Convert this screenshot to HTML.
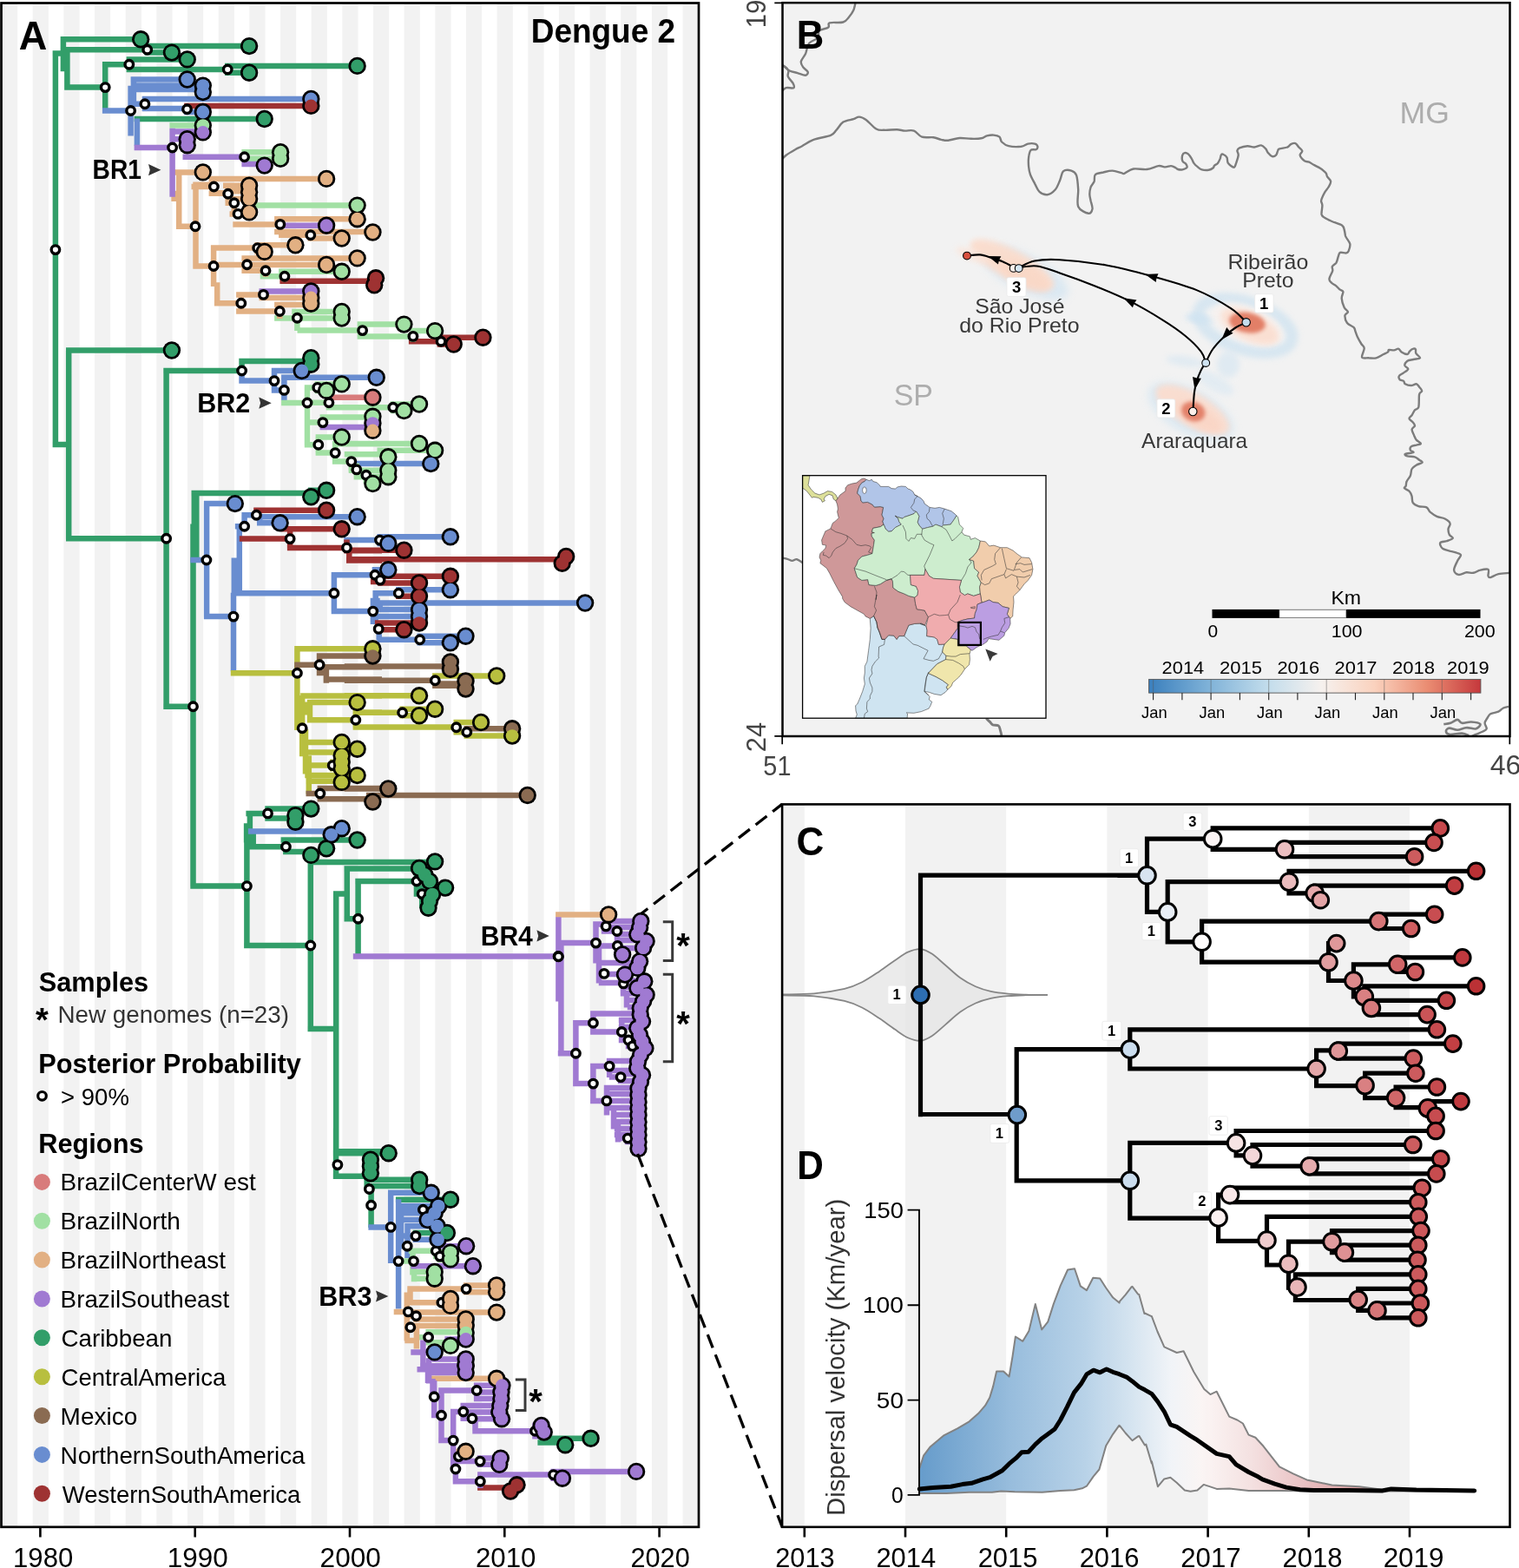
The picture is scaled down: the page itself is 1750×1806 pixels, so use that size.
<!DOCTYPE html>
<html lang="en"><head><meta charset="utf-8"><title>Dengue 2 phylogeography</title>
<style>
html,body{margin:0;padding:0;background:#fff}
body{width:1750px;height:1806px;overflow:hidden;font-family:"Liberation Sans",sans-serif}
svg{display:block}
</style></head><body>
<svg width="1750" height="1806" viewBox="0 0 1750 1806" font-family="'Liberation Sans', sans-serif">
<rect width="1750" height="1806" fill="#fff"/>
<g id="panelA">
<rect x="1.5" y="3.5" width="803.7" height="1755.3" fill="#fff"/>
<path d="M2 3.5h18.2v1755.3h-18.2zM37.7 3.5h18.2v1755.3h-18.2zM73.4 3.5h18.2v1755.3h-18.2zM109 3.5h18.2v1755.3h-18.2zM144.7 3.5h18.2v1755.3h-18.2zM180.3 3.5h18.2v1755.3h-18.2zM216 3.5h18.2v1755.3h-18.2zM251.7 3.5h18.2v1755.3h-18.2zM287.3 3.5h18.2v1755.3h-18.2zM323 3.5h18.2v1755.3h-18.2zM358.6 3.5h18.2v1755.3h-18.2zM394.3 3.5h18.2v1755.3h-18.2zM430 3.5h18.2v1755.3h-18.2zM465.6 3.5h18.2v1755.3h-18.2zM501.3 3.5h18.2v1755.3h-18.2zM536.9 3.5h18.2v1755.3h-18.2zM572.6 3.5h18.2v1755.3h-18.2zM608.3 3.5h18.2v1755.3h-18.2zM643.9 3.5h18.2v1755.3h-18.2zM679.6 3.5h18.2v1755.3h-18.2zM715.2 3.5h18.2v1755.3h-18.2zM750.9 3.5h18.2v1755.3h-18.2zM786.6 3.5h18.2v1755.3h-18.2z" fill="#f2f2f2"/>
<path d="M69.7 45.3H162.2M166.5 53.1H287.1M74.2 57.3H169.7M166.5 60.6H197.9M60.6 61.6H72.9M145.6 68.4H215.7M117.9 74.2H148.8M259 75.9H411.6M145.6 80H262.2M259 83.7H287.1M74.2 100.6H121.2M154.6 137H304.7M72.9 42.2V82.2M77.4 56.1V103.6M121.2 71.2V125M148.8 67.9V80.5M169.7 52.6V61.1M262.2 75.4V84.2M76 403.5H197.9M275.3 416H358.3M188.3 427H278.6M60.6 512H79.2M220.5 568.1H358.3M355 564.8H376.1M79.2 403.9V610.6M191.6 426.5V610.6M278.6 415.5V430.8M223.8 567.6V610.6M76 620.3H191.6M79.2 559.5V620.8M191.6 559.5V790.6M226.3 568.3V643.5M222.5 603.5V790.6M188.3 813.7H222.5M305.3 931.6H358.3M283.4 936.9H308.5M305.3 942.4H340.4M323.6 967.5H411.6M191.6 739.5V814.2M222.5 739.5V970.6M308.5 931.1V942.9M287.9 936.4V970.6M284.1 948.2V970.6M285.9 975.3H329.4M326.1 981.1H358.3M355 992.9H440M396.5 1000.5H440M409.3 1015H440M219.3 1020.6H284.4M384 1029.4H399.8M396.5 1058.3H412.6M281.1 1089H357.8M222.5 919.5V1021.1M284.4 948.4V1089.5M287.9 934.6V978.3M291.7 957.2V978.3M329.4 968.5V981.6M357.8 992.4V1150.6M399.8 1000V1058.8M412.6 1014.5V1102M387.2 1028.9V1150.6M396.8 992.9H501.1M396.8 1000.5H483M409.3 1015H480M396.8 1058.3H412.6M476.7 1007.5H489.3M476.7 1022.6H513.1M476.7 1029.6H486.2M483 1037.7H495M412.6 1014.5V1102M480 1007V1030.1M486.2 1022.1V1046.2M354.5 1185H387.2M384 1326.3H440M357.8 1099.5V1185.5M387.2 1099.5V1326.8M383.8 1328.2H447.7M383.8 1354.7H426.9M419.5 1358.7H483.2M419.5 1366.1H483.2M455.9 1381.7H519M475.7 1420H514.9M387.1 1299.5V1357M422.7 1354.2V1370.3M427.6 1365.6V1413.9M623.5 1656.8H680.6M619.4 1661.5H651.2M63.9 59.5V512.5" stroke="#329E69" stroke-width="6.5" fill="none"/>
<path d="M150.6 91.5H215.7M153.9 98.6H233.8M147.4 103.1H233.8M163.7 113.9H358.3M163.7 125H215.5M212.2 129H233.8M117.9 127.5H150.6M153.9 119.7H166.9M150.6 98.8V156.4M153.9 88.8V121.2M157.9 136.5V167.7M275.3 438.6H316M312.8 427H347.7M324.1 434.8H433.7M312.8 449.4H327.4M407.6 534.1H440M234.9 580.1H270.8M292.2 595.2H411.6M278.4 593.2H295.4M296 602.3H322.6M270.8 606.3H281.6M278.6 429.8V439.1M316 426.5V449.9M327.4 434.3V461M238.1 579.6V610.6M295.4 587.2V599.2M299.2 594.7V602.8M281.6 592.7V610.6M407.6 534.1H496.3M219.3 645H237.9M234.9 710.1H269M396.3 622.1H437.5M381.7 662.3H432M267 683.2H384.9M381.7 704.1H429.7M238.1 579.6V710.6M275.8 604.8V683.7M269.8 642.5V683.7M269 682.7V773M384.9 661.8V704.6M434.5 618.3H518.9M434.5 625.9H447.3M428.7 656.3H447.3M456.1 679.2H518.9M429.4 683.2H459.3M434.5 694.5H674.1M426.7 692H437.7M434.5 702.1H483M426.7 709.9H483M480.5 732.7H536.5M434.5 736.8H483.7M480.5 740.3H518.9M437.7 617.8V626.4M431.9 655.8V668.6M459.3 678.7V687.2M432.7 682.7V718.9M429.9 690.2V718.9M437.7 691.5V702.6M436.7 717.9V737.3M483.7 732.2V740.8M285.9 957.5H381.7M269 739.5V773.2M447 1373.8H496.7M424.4 1413.4H450.2M455.9 1389.1H505.2M455.9 1393.2H487.4M463.3 1397.3H500.7M455.9 1405H492.6M466.3 1412.2H503.7M455.9 1423.6H478.9M475.7 1427.8H504.5M455.9 1435.2H469.2M450.2 1373.3V1455M459.1 1381.2V1470.5M462.1 1388.6V1434.2M469.5 1409.4V1449.1M478.9 1419.5V1428.3M459.1 1439.5V1507.4" stroke="#698DD0" stroke-width="6.5" fill="none"/>
<path d="M212.2 121.9H358.3M322.4 323.8H427.4M470.9 393.2H508.1M504.9 388.7H556.4M503.6 396.5H522.7M508.1 388.2V397M292.2 587.7H376.1M323.6 609.3H393.7M275.8 620.6H334.1M330.9 630.9H399.5M396.3 634.2H440M399 645.5H440M334.1 610V631.4M399.5 621.6V633.4M402.3 630.4V646M396.8 633.7H465.4M404.3 644.2H647.7M435.2 663.8H518.9M426.9 669.9H438.5M435.2 671.4H483M456.1 686.7H483M431.9 717.6H483M433.5 725.2H465.4M438.5 663.3V671.9M436.7 717.1V725.7M550.1 1713.6H588.1" stroke="#9E3232" stroke-width="6.5" fill="none"/>
<path d="M339.2 747.3H429.4M265.8 775.2H342.4M342.4 746.8V790.6M498.1 778.5H572.2M501.3 778V788M346.2 801.6H440M353.8 809.1H411.6M406.6 820.5H440M353.8 829.3H409.8M406.6 837.6H440M346.2 854.9H393.7M390.5 862.7H411.6M348.8 866.5H393.7M350 881.6H383.2M379.9 877.8H393.7M379.9 885.3H393.7M351.3 893.1H411.6M352.5 899.7H393.7M342.4 747V841.1M348.2 801.1V871.2M352 840.1V891.4M355.8 870.2V914.5M357 808.6V829.8M353.8 808.6V823.5M409.8 820V838.1M383.2 877.3V885.8M396.8 801.3H483M406.8 820.7H463.6M460.4 816.7H501.1M460.4 824.2H483M406.8 837.6H525.7M522.5 832H554.1M534.5 847.6H590.1M522.5 843.3H537.8M463.6 816.2V824.7M525.7 831.5V843.8M537.8 838.8V848.1" stroke="#B8BF3F" stroke-width="6.5" fill="none"/>
<path d="M364.8 755.6H429.4M339.2 765.7H368.1M364.8 768.2H440M364.8 775H375.9M372.6 782.5H440M368.1 755.1V775.5M375.9 767.7V786.8M396.8 767.4H518.9M396.8 783.8H501.3M498.1 787.5H536.5M365.6 908H440M352.5 914H368.8M365.6 920.3H429.4M368.8 907.5V920.8M498.1 789.8H536.5M534.5 839.3H590.1M396.8 908.5H447.3M421.9 916H607.7M396.8 920.3H429.7" stroke="#8A6B52" stroke-width="6.5" fill="none"/>
<path d="M195.4 144.6H233.8M278.4 175.2H323.1M278.4 182.8H323.1M283.9 236.6H411.6M321.1 312.8H393.7M299.7 318.3H327.9M336.2 359H393.7M316.1 366.6H393.7M411.6 373.6H440M342.5 380.6H417.6M411.6 387.4H440M327.9 312.3V324.3M342.4 358.5V381.1M417.6 373.1V387.9M414.4 373.6H465.4M472.7 381.1H501.1M414.4 387.4H475.9M475.9 380.6V393.7M350.8 446.4H365.8M362.6 442.4H393.7M362.6 449.9H376.1M324.1 464H354M350.8 463.7H378.9M375.7 469.3H440M368.6 480.6H429.4M350.8 486.6H371.9M363.6 503.5H393.7M382.9 511.2H440M350.8 512.3H366.8M363.6 521.6H386.2M401.6 523.3H440M382.9 531.6H404.8M401.6 540.9H410.8M407.6 547.2H421.9M418.6 542.2H440M418.6 553.5H429.4M354 445.9V512.8M365.8 441.9V450.4M378.9 457.2V469.8M371.9 480.1V492.4M366.8 503V522.1M386.2 510.7V532.1M404.8 522.8V541.4M410.8 533.6V547.7M421.9 541.7V554M396.8 469.3H452.8M449.6 465.5H483M449.6 473H465.4M396.8 511H483M434.5 518.8H501.1M396.8 523.3H447.3M401.8 541.7H447.3M407.6 549.2H447.3M418.6 553.5H429.7M452.8 465V473.5M470.8 1440.8H502.2M499 1442.6H519M503.4 1450.4H519M499 1447.1H506.7M455.9 1452.6H476.5M472.2 1464.9H500.7M475.5 1439.2V1468.4M502.2 1440.3V1447.6M490.4 1534.3H536.7M481.1 1540.3H493.6M490.4 1546.2H519M472.2 1465H500.7M475.2 1472.7H500.7M477 1454.4V1476.2M493.6 1533.8V1546.7" stroke="#A1E0A3" stroke-width="6.5" fill="none"/>
<path d="M197.9 198.4H233.8M240.6 205.9H376.1M258.2 213.7H287.1M220.5 215H246.4M243.2 222.3H262.7M262.7 213.2V222.8M222.3 212.7H246.4M257 213.7H287.1M240.6 222.7H262.7M259.5 220.2H287.1M266.5 229H287.1M259.5 233.8H269.8M270.8 244.4H287.1M264.5 246.4H274.1M316.1 252.2H411.6M268.3 258.4H322.8M202.9 260.7H225M316.1 267H429.4M321.1 270.8H357.8M354.5 274.5H393.7M293.4 282.3H340.4M242.9 285.6H296.7M293.4 289.9H304.7M278.4 297.4H411.6M242.9 305H376.1M222.3 306.5H246.1M278.4 311.7H306M272.1 339.4H303.5M298.5 342.9H358.3M246.9 349.2H277.8M316.1 351H358.3M272.1 358.5H322.3M206.2 197.9V262.2M200.6 219.7V232M225.5 212.2V308.7M246.1 282.6V330.1M250.2 325.3V351.5M262.7 213.2V234.3M269.8 228.5V246.9M322.8 251.7V267.5M324.3 266.5V271.3M357.8 270.3V275M296.7 281.8V290.4M284.6 296.9V312.2M306 311.2V318.8M277.8 338.9V359M303.5 334.9V343.4M322.3 350.5V367.1M469.3 1484.6H537.1M533.9 1480.4H572.1M533.9 1488.3H572.1M465.6 1500.2H519M453.7 1510.9H470.3M476.2 1511.6H572.1M476.2 1519.5H536.7M470.8 1526.9H536.7M494.5 1587.8H572.1M467 1515.8H479.5M465.6 1528.7H472.8M466.3 1544H479.9M468.8 1488.5V1544.5M479.9 1528.6V1553.4M472.5 1484.1V1500.7M479.5 1511.1V1520M537.1 1479.9V1488.8M525.2 1671.8H536.6M640.1 1053.4H701" stroke="#E2B083" stroke-width="6.5" fill="none"/>
<path d="M195.4 151.6H233.8M197.9 160.2H215.7M154.6 170H198.6M210.5 180.8H281.6M278.4 189.1H304.7M198.6 147.8V226.8M319.6 259.7H376.1M298.5 335.4H358.3M368.6 491.9H429.4M409.3 1101.5H440M406.8 1101.5H643.1M506.4 1435.2H537.1M473.3 1458.2H544.9M512.4 1542.5H536.7M473.3 1557.4H500.7M497.5 1565.5H536.7M484.1 1573.3H536.7M490.8 1581.1H536.7M487.4 1543.5V1577.2M494.1 1564.3V1593.5M498.5 1588.1V1610.5M480.5 1577.2H536.4M505.2 1601.5H549.2M545.9 1595.7H578.4M545.9 1603.5H577.4M545.9 1611.1H577.4M530.5 1619H576.3M519 1626H533.8M530.5 1626.6H575.3M530.5 1633.8H544M540.8 1634.2H578M544.3 1648.2H616.5M613.2 1642H623.7M613.2 1654.3H626.7M505.2 1659.1H522.2M519 1677.6H528.4M549.8 1679.6H576.8M525.2 1683.1H553.1M549.8 1686.8H575.3M634.4 1694.9H733.1M550.1 1698.6H637.6M634.4 1702.7H647.9M521.7 1706.2H553.3M493 1569.5V1593.1M500.2 1590.1V1633.2M508.5 1601V1661M522.2 1625.5V1693.9M524.9 1690.9V1706.7M533.8 1618.5V1634.3M547.5 1633.3V1648.7M549.2 1595.2V1611.6M616.5 1641.5V1654.8M553.1 1679.1V1687.3M637.6 1694.4V1703.2M553.3 1698.1V1714.1M642.8 1086.1H686.5M683.2 1064.5H698M694.8 1060.9H738M694.8 1068H737M692.8 1072.5H711M707.8 1076H734M707.8 1083H744M686.8 1089.4H711.4M707.8 1092H741M707.8 1099H717M686.8 1108.9H737M716.8 1114.6H734M686.8 1121.4H696M692.8 1122H720M689.8 1132H718M714.8 1129.4H742M714.8 1137H734M714.8 1144.3H744M718.8 1152H741M722.8 1160H737M680.1 1167.5H737M660.1 1178.2H683.4M712.8 1175H740M680.1 1188.5H716.3M712.8 1183H734M712.8 1198H724M720.8 1204.9H728.6M642.8 1213.2H663.4M698.8 1222H735M680.1 1228.1H702M698.8 1233H734M701.8 1240.6H715M711.8 1237H740M711.8 1245H738M660.1 1248.1H683.4M695.8 1253H735M695.8 1260H735M680.1 1267.9H699M695.8 1268H735M695.8 1276H735M703.8 1284H735M703.8 1292H735M707.8 1300H735M707.8 1307H735M709.8 1311.1H723M719.8 1315H735M643.4 1056.3V1153.5M646.4 1088.5V1213.7M686.5 1063.5V1109.4M690 1088.5V1132.5M698 1060.4V1068.5M711 1072V1099.5M718 1128.9V1144.8M722 1143.5V1160.5M663.4 1177.7V1248.6M683.4 1167V1189M716.3 1174.5V1198.5M683.4 1227.6V1268.4M702.1 1221.5V1241.1M715.1 1236.5V1245.5M699 1252.5V1284.5M707 1275.5V1300.5M712 1291.5V1315.5" stroke="#A07AD2" stroke-width="6.5" fill="none"/>
<path d="M375.7 457.7H429.4" stroke="#D87B7B" stroke-width="6.5" fill="none"/>
<g fill="#fff" stroke="#000" stroke-width="3.4">
<circle cx="169.7" cy="57.3" r="4.75"/>
<circle cx="148.8" cy="74.2" r="4.75"/>
<circle cx="262.2" cy="80" r="4.75"/>
<circle cx="121.2" cy="100.6" r="4.75"/>
<circle cx="166.9" cy="119.7" r="4.75"/>
<circle cx="215.5" cy="125.7" r="4.75"/>
<circle cx="150.6" cy="127.5" r="4.75"/>
<circle cx="198.6" cy="170" r="4.75"/>
<circle cx="281.6" cy="180.8" r="4.75"/>
<circle cx="246.4" cy="215" r="4.75"/>
<circle cx="262.7" cy="223.3" r="4.75"/>
<circle cx="269.8" cy="233.8" r="4.75"/>
<circle cx="274.1" cy="246.4" r="4.75"/>
<circle cx="225" cy="260.7" r="4.75"/>
<circle cx="322.8" cy="258.4" r="4.75"/>
<circle cx="357.8" cy="270.8" r="4.75"/>
<circle cx="296.7" cy="285.6" r="4.75"/>
<circle cx="63.9" cy="287.6" r="4.75"/>
<circle cx="246.1" cy="306.5" r="4.75"/>
<circle cx="284.6" cy="304.7" r="4.75"/>
<circle cx="306" cy="311.7" r="4.75"/>
<circle cx="327.9" cy="318.3" r="4.75"/>
<circle cx="303.5" cy="339.4" r="4.75"/>
<circle cx="277.8" cy="349.2" r="4.75"/>
<circle cx="322.3" cy="358.5" r="4.75"/>
<circle cx="342.4" cy="366.3" r="4.75"/>
<circle cx="417.6" cy="380.6" r="4.75"/>
<circle cx="475.9" cy="387.4" r="4.75"/>
<circle cx="508.1" cy="393.2" r="4.75"/>
<circle cx="278.6" cy="427" r="4.75"/>
<circle cx="316" cy="438.6" r="4.75"/>
<circle cx="327.4" cy="449.4" r="4.75"/>
<circle cx="365.8" cy="446.4" r="4.75"/>
<circle cx="354" cy="464" r="4.75"/>
<circle cx="378.9" cy="463.7" r="4.75"/>
<circle cx="371.9" cy="486.6" r="4.75"/>
<circle cx="366.8" cy="512.3" r="4.75"/>
<circle cx="386.2" cy="521.6" r="4.75"/>
<circle cx="404.8" cy="531.6" r="4.75"/>
<circle cx="410.8" cy="540.9" r="4.75"/>
<circle cx="421.9" cy="547.2" r="4.75"/>
<circle cx="295.4" cy="593.2" r="4.75"/>
<circle cx="281.6" cy="606.3" r="4.75"/>
<circle cx="452.8" cy="469.3" r="4.75"/>
<circle cx="191.6" cy="620.3" r="4.75"/>
<circle cx="237.9" cy="645" r="4.75"/>
<circle cx="334.1" cy="620.6" r="4.75"/>
<circle cx="399.5" cy="630.9" r="4.75"/>
<circle cx="437.5" cy="622.1" r="4.75"/>
<circle cx="432" cy="662.3" r="4.75"/>
<circle cx="438" cy="668.1" r="4.75"/>
<circle cx="384.9" cy="683.2" r="4.75"/>
<circle cx="429.7" cy="704.1" r="4.75"/>
<circle cx="436.2" cy="724.4" r="4.75"/>
<circle cx="269" cy="710.1" r="4.75"/>
<circle cx="368.1" cy="765.7" r="4.75"/>
<circle cx="342.4" cy="775.2" r="4.75"/>
<circle cx="459.3" cy="683.2" r="4.75"/>
<circle cx="483.7" cy="736.8" r="4.75"/>
<circle cx="501.3" cy="783.8" r="4.75"/>
<circle cx="222.5" cy="813.7" r="4.75"/>
<circle cx="409.8" cy="829.3" r="4.75"/>
<circle cx="348.2" cy="838.8" r="4.75"/>
<circle cx="383.2" cy="881.6" r="4.75"/>
<circle cx="368.8" cy="914" r="4.75"/>
<circle cx="308.5" cy="936.9" r="4.75"/>
<circle cx="463.6" cy="820.7" r="4.75"/>
<circle cx="525.7" cy="837.8" r="4.75"/>
<circle cx="537.8" cy="843.3" r="4.75"/>
<circle cx="329.4" cy="975.3" r="4.75"/>
<circle cx="284.4" cy="1020.6" r="4.75"/>
<circle cx="412.6" cy="1058.3" r="4.75"/>
<circle cx="357.8" cy="1089" r="4.75"/>
<circle cx="480" cy="1015" r="4.75"/>
<circle cx="486.2" cy="1029.6" r="4.75"/>
<circle cx="643.1" cy="1101.5" r="4.75"/>
<circle cx="388.9" cy="1341.6" r="4.75"/>
<circle cx="425.4" cy="1369.5" r="4.75"/>
<circle cx="427.6" cy="1388.3" r="4.75"/>
<circle cx="487.4" cy="1393.2" r="4.75"/>
<circle cx="450.2" cy="1413.4" r="4.75"/>
<circle cx="478.9" cy="1423.6" r="4.75"/>
<circle cx="469.2" cy="1435.2" r="4.75"/>
<circle cx="502.2" cy="1440.8" r="4.75"/>
<circle cx="506.7" cy="1447.1" r="4.75"/>
<circle cx="459.1" cy="1452.6" r="4.75"/>
<circle cx="476.5" cy="1452.6" r="4.75"/>
<circle cx="537.1" cy="1484.6" r="4.75"/>
<circle cx="508.9" cy="1500.2" r="4.75"/>
<circle cx="470.3" cy="1510.9" r="4.75"/>
<circle cx="479.5" cy="1515.8" r="4.75"/>
<circle cx="472.8" cy="1528.7" r="4.75"/>
<circle cx="493.6" cy="1540.3" r="4.75"/>
<circle cx="500.2" cy="1608.7" r="4.75"/>
<circle cx="549.2" cy="1601.5" r="4.75"/>
<circle cx="508.5" cy="1630.3" r="4.75"/>
<circle cx="533.8" cy="1626" r="4.75"/>
<circle cx="544" cy="1633.8" r="4.75"/>
<circle cx="616.5" cy="1648.2" r="4.75"/>
<circle cx="522.2" cy="1659.1" r="4.75"/>
<circle cx="528.4" cy="1677.6" r="4.75"/>
<circle cx="553.1" cy="1683.1" r="4.75"/>
<circle cx="524.9" cy="1692" r="4.75"/>
<circle cx="637.6" cy="1698.6" r="4.75"/>
<circle cx="553.3" cy="1706.2" r="4.75"/>
<circle cx="698.1" cy="1066.9" r="4.75"/>
<circle cx="710.9" cy="1072.5" r="4.75"/>
<circle cx="686.5" cy="1086.1" r="4.75"/>
<circle cx="711.4" cy="1089.4" r="4.75"/>
<circle cx="643.4" cy="1101.7" r="4.75"/>
<circle cx="696" cy="1121.4" r="4.75"/>
<circle cx="718.3" cy="1132.9" r="4.75"/>
<circle cx="683.4" cy="1178.2" r="4.75"/>
<circle cx="716.3" cy="1188.5" r="4.75"/>
<circle cx="724" cy="1198" r="4.75"/>
<circle cx="728.6" cy="1204.9" r="4.75"/>
<circle cx="663.4" cy="1213.2" r="4.75"/>
<circle cx="702.1" cy="1228.1" r="4.75"/>
<circle cx="715.1" cy="1240.6" r="4.75"/>
<circle cx="683.4" cy="1248.1" r="4.75"/>
<circle cx="698.9" cy="1267.9" r="4.75"/>
<circle cx="723.2" cy="1311.1" r="4.75"/>
</g>
<g fill="#000">
<circle cx="162.2" cy="45.3" r="10.2"/>
<circle cx="287.1" cy="53.1" r="10.2"/>
<circle cx="197.9" cy="60.6" r="10.2"/>
<circle cx="215.7" cy="68.4" r="10.2"/>
<circle cx="411.6" cy="75.9" r="10.2"/>
<circle cx="287.1" cy="83.7" r="10.2"/>
<circle cx="215.7" cy="91.5" r="10.2"/>
<circle cx="233.8" cy="98.6" r="10.2"/>
<circle cx="233.8" cy="106.1" r="10.2"/>
<circle cx="358.3" cy="113.9" r="10.2"/>
<circle cx="358.3" cy="121.9" r="10.2"/>
<circle cx="233.8" cy="129" r="10.2"/>
<circle cx="304.7" cy="137" r="10.2"/>
<circle cx="233.8" cy="144.6" r="10.2"/>
<circle cx="233.8" cy="152.4" r="10.2"/>
<circle cx="215.7" cy="160.2" r="10.2"/>
<circle cx="215.7" cy="167.2" r="10.2"/>
<circle cx="323.1" cy="175.2" r="10.2"/>
<circle cx="323.1" cy="182.8" r="10.2"/>
<circle cx="304.7" cy="190.6" r="10.2"/>
<circle cx="233.8" cy="198.4" r="10.2"/>
<circle cx="376.1" cy="205.9" r="10.2"/>
<circle cx="287.1" cy="213.7" r="10.2"/>
<circle cx="287.1" cy="221.3" r="10.2"/>
<circle cx="287.1" cy="229" r="10.2"/>
<circle cx="411.6" cy="236.6" r="10.2"/>
<circle cx="287.1" cy="244.4" r="10.2"/>
<circle cx="411.6" cy="252.2" r="10.2"/>
<circle cx="376.1" cy="259.7" r="10.2"/>
<circle cx="429.4" cy="267.5" r="10.2"/>
<circle cx="393.7" cy="274.5" r="10.2"/>
<circle cx="340.4" cy="282.3" r="10.2"/>
<circle cx="304.7" cy="289.9" r="10.2"/>
<circle cx="411.6" cy="297.4" r="10.2"/>
<circle cx="376.1" cy="305" r="10.2"/>
<circle cx="393.7" cy="312.8" r="10.2"/>
<circle cx="433" cy="320.3" r="10.2"/>
<circle cx="431.2" cy="328.3" r="10.2"/>
<circle cx="358.3" cy="335.4" r="10.2"/>
<circle cx="358.3" cy="342.9" r="10.2"/>
<circle cx="358.3" cy="349.7" r="10.2"/>
<circle cx="393.7" cy="359" r="10.2"/>
<circle cx="393.7" cy="366.6" r="10.2"/>
<circle cx="197.9" cy="403.5" r="10.2"/>
<circle cx="465.4" cy="373.6" r="10.2"/>
<circle cx="501.1" cy="381.1" r="10.2"/>
<circle cx="556.4" cy="388.7" r="10.2"/>
<circle cx="522.7" cy="396.5" r="10.2"/>
<circle cx="358.3" cy="412.2" r="10.2"/>
<circle cx="358.3" cy="419.7" r="10.2"/>
<circle cx="347.7" cy="427" r="10.2"/>
<circle cx="433.7" cy="434.8" r="10.2"/>
<circle cx="393.7" cy="442.4" r="10.2"/>
<circle cx="376.1" cy="449.9" r="10.2"/>
<circle cx="429.4" cy="457.7" r="10.2"/>
<circle cx="429.4" cy="479.8" r="10.2"/>
<circle cx="429.4" cy="487.6" r="10.2"/>
<circle cx="429.4" cy="495.9" r="10.2"/>
<circle cx="393.7" cy="503.5" r="10.2"/>
<circle cx="429.4" cy="557" r="10.2"/>
<circle cx="376.1" cy="564.8" r="10.2"/>
<circle cx="358.3" cy="572.3" r="10.2"/>
<circle cx="270.8" cy="580.1" r="10.2"/>
<circle cx="376.1" cy="587.7" r="10.2"/>
<circle cx="411.6" cy="595.2" r="10.2"/>
<circle cx="322.6" cy="602.3" r="10.2"/>
<circle cx="393.7" cy="609.3" r="10.2"/>
<circle cx="483" cy="465.5" r="10.2"/>
<circle cx="465.4" cy="473" r="10.2"/>
<circle cx="483" cy="511" r="10.2"/>
<circle cx="501.1" cy="518.8" r="10.2"/>
<circle cx="447.3" cy="526.3" r="10.2"/>
<circle cx="496.3" cy="534.1" r="10.2"/>
<circle cx="447.3" cy="541.7" r="10.2"/>
<circle cx="447.3" cy="549.2" r="10.2"/>
<circle cx="429.4" cy="747.3" r="10.2"/>
<circle cx="429.4" cy="755.6" r="10.2"/>
<circle cx="518.9" cy="618.3" r="10.2"/>
<circle cx="447.3" cy="625.9" r="10.2"/>
<circle cx="465.4" cy="633.7" r="10.2"/>
<circle cx="652.2" cy="641" r="10.2"/>
<circle cx="647.7" cy="648.8" r="10.2"/>
<circle cx="447.3" cy="656.3" r="10.2"/>
<circle cx="518.9" cy="663.8" r="10.2"/>
<circle cx="483" cy="671.4" r="10.2"/>
<circle cx="518.9" cy="679.2" r="10.2"/>
<circle cx="483" cy="686.7" r="10.2"/>
<circle cx="674.1" cy="694.5" r="10.2"/>
<circle cx="483" cy="702.1" r="10.2"/>
<circle cx="483" cy="709.9" r="10.2"/>
<circle cx="483" cy="717.6" r="10.2"/>
<circle cx="465.4" cy="725.2" r="10.2"/>
<circle cx="536.5" cy="732.7" r="10.2"/>
<circle cx="518.9" cy="740.3" r="10.2"/>
<circle cx="518.9" cy="762.4" r="10.2"/>
<circle cx="518.9" cy="770.7" r="10.2"/>
<circle cx="572.2" cy="778.5" r="10.2"/>
<circle cx="536.5" cy="784.5" r="10.2"/>
<circle cx="411.6" cy="809.1" r="10.2"/>
<circle cx="393.7" cy="854.9" r="10.2"/>
<circle cx="411.6" cy="862.7" r="10.2"/>
<circle cx="393.7" cy="870.2" r="10.2"/>
<circle cx="393.7" cy="877.8" r="10.2"/>
<circle cx="393.7" cy="885.3" r="10.2"/>
<circle cx="411.6" cy="893.1" r="10.2"/>
<circle cx="393.7" cy="900.9" r="10.2"/>
<circle cx="429.4" cy="923.5" r="10.2"/>
<circle cx="358.3" cy="931.6" r="10.2"/>
<circle cx="340.4" cy="939.1" r="10.2"/>
<circle cx="340.4" cy="946.7" r="10.2"/>
<circle cx="393.7" cy="954.2" r="10.2"/>
<circle cx="381.7" cy="961.3" r="10.2"/>
<circle cx="411.6" cy="967.5" r="10.2"/>
<circle cx="536.5" cy="793.6" r="10.2"/>
<circle cx="483" cy="801.3" r="10.2"/>
<circle cx="501.1" cy="816.7" r="10.2"/>
<circle cx="483" cy="824.2" r="10.2"/>
<circle cx="554.1" cy="832" r="10.2"/>
<circle cx="590.1" cy="839.3" r="10.2"/>
<circle cx="590.1" cy="847.6" r="10.2"/>
<circle cx="447.3" cy="908.5" r="10.2"/>
<circle cx="607.7" cy="916" r="10.2"/>
<circle cx="376.1" cy="977.3" r="10.2"/>
<circle cx="358.3" cy="984.9" r="10.2"/>
<circle cx="501.1" cy="992.4" r="10.2"/>
<circle cx="483" cy="1000" r="10.2"/>
<circle cx="489.3" cy="1007.5" r="10.2"/>
<circle cx="495" cy="1015" r="10.2"/>
<circle cx="513.1" cy="1022.6" r="10.2"/>
<circle cx="498.1" cy="1030.1" r="10.2"/>
<circle cx="495" cy="1037.7" r="10.2"/>
<circle cx="493.5" cy="1045.7" r="10.2"/>
<circle cx="447.7" cy="1328.2" r="10.2"/>
<circle cx="426.9" cy="1335.7" r="10.2"/>
<circle cx="426.9" cy="1343.4" r="10.2"/>
<circle cx="426.9" cy="1351.3" r="10.2"/>
<circle cx="483.2" cy="1358.7" r="10.2"/>
<circle cx="483.2" cy="1366.1" r="10.2"/>
<circle cx="496.7" cy="1373.8" r="10.2"/>
<circle cx="519" cy="1381.7" r="10.2"/>
<circle cx="505.2" cy="1389.1" r="10.2"/>
<circle cx="500.7" cy="1397.3" r="10.2"/>
<circle cx="492.6" cy="1405" r="10.2"/>
<circle cx="503.7" cy="1412.2" r="10.2"/>
<circle cx="514.9" cy="1420" r="10.2"/>
<circle cx="504.5" cy="1427.8" r="10.2"/>
<circle cx="537.1" cy="1435.2" r="10.2"/>
<circle cx="519" cy="1442.6" r="10.2"/>
<circle cx="519" cy="1450.4" r="10.2"/>
<circle cx="544.9" cy="1458.2" r="10.2"/>
<circle cx="500.7" cy="1464.9" r="10.2"/>
<circle cx="500.7" cy="1472.7" r="10.2"/>
<circle cx="572.1" cy="1480.4" r="10.2"/>
<circle cx="572.1" cy="1488.3" r="10.2"/>
<circle cx="519" cy="1496" r="10.2"/>
<circle cx="519" cy="1503.9" r="10.2"/>
<circle cx="572.1" cy="1511.6" r="10.2"/>
<circle cx="536.7" cy="1519.5" r="10.2"/>
<circle cx="536.7" cy="1526.9" r="10.2"/>
<circle cx="536.7" cy="1535.1" r="10.2"/>
<circle cx="536.7" cy="1542.5" r="10.2"/>
<circle cx="519" cy="1549.9" r="10.2"/>
<circle cx="500.7" cy="1557.4" r="10.2"/>
<circle cx="536.7" cy="1565.5" r="10.2"/>
<circle cx="536.7" cy="1573.3" r="10.2"/>
<circle cx="536.7" cy="1581.1" r="10.2"/>
<circle cx="572.1" cy="1587.8" r="10.2"/>
<circle cx="536.4" cy="1572.5" r="10.2"/>
<circle cx="578.4" cy="1595.7" r="10.2"/>
<circle cx="577.4" cy="1603.5" r="10.2"/>
<circle cx="577.4" cy="1611.1" r="10.2"/>
<circle cx="576.3" cy="1619" r="10.2"/>
<circle cx="575.3" cy="1626.6" r="10.2"/>
<circle cx="578" cy="1634.2" r="10.2"/>
<circle cx="623.7" cy="1642" r="10.2"/>
<circle cx="626.7" cy="1649.6" r="10.2"/>
<circle cx="680.6" cy="1656.8" r="10.2"/>
<circle cx="651.2" cy="1664.2" r="10.2"/>
<circle cx="536.6" cy="1671.8" r="10.2"/>
<circle cx="576.8" cy="1679.6" r="10.2"/>
<circle cx="575.3" cy="1686.8" r="10.2"/>
<circle cx="733.1" cy="1694.9" r="10.2"/>
<circle cx="647.9" cy="1702.7" r="10.2"/>
<circle cx="595.5" cy="1710.3" r="10.2"/>
<circle cx="588.1" cy="1717.5" r="10.2"/>
<circle cx="701.1" cy="1053.4" r="10.2"/>
<circle cx="738.3" cy="1060.9" r="10.2"/>
<circle cx="737.1" cy="1068.6" r="10.2"/>
<circle cx="734.3" cy="1076.3" r="10.2"/>
<circle cx="744.6" cy="1084" r="10.2"/>
<circle cx="741.1" cy="1091.7" r="10.2"/>
<circle cx="717.1" cy="1099.5" r="10.2"/>
<circle cx="737.1" cy="1107.2" r="10.2"/>
<circle cx="734.3" cy="1114.9" r="10.2"/>
<circle cx="720" cy="1122.6" r="10.2"/>
<circle cx="742.3" cy="1130.3" r="10.2"/>
<circle cx="734.3" cy="1138" r="10.2"/>
<circle cx="744.6" cy="1145.7" r="10.2"/>
<circle cx="741.1" cy="1153.4" r="10.2"/>
<circle cx="737.7" cy="1161.1" r="10.2"/>
<circle cx="737.7" cy="1168.8" r="10.2"/>
<circle cx="740" cy="1176.6" r="10.2"/>
<circle cx="734.3" cy="1184.3" r="10.2"/>
<circle cx="737" cy="1192" r="10.2"/>
<circle cx="740" cy="1199.7" r="10.2"/>
<circle cx="743.4" cy="1207.4" r="10.2"/>
<circle cx="738" cy="1215.1" r="10.2"/>
<circle cx="735" cy="1222.8" r="10.2"/>
<circle cx="734.3" cy="1230.5" r="10.2"/>
<circle cx="740" cy="1238.2" r="10.2"/>
<circle cx="738" cy="1245.9" r="10.2"/>
<circle cx="735.5" cy="1253.7" r="10.2"/>
<circle cx="735.5" cy="1261.4" r="10.2"/>
<circle cx="735.5" cy="1269.1" r="10.2"/>
<circle cx="735.5" cy="1276.8" r="10.2"/>
<circle cx="735.5" cy="1284.5" r="10.2"/>
<circle cx="735.5" cy="1292.2" r="10.2"/>
<circle cx="735.5" cy="1299.9" r="10.2"/>
<circle cx="735.5" cy="1307.6" r="10.2"/>
<circle cx="735.5" cy="1315.3" r="10.2"/>
<circle cx="735.5" cy="1323" r="10.2"/>
</g>
<g fill="#329E69">
<circle cx="162.2" cy="45.3" r="7.4"/>
<circle cx="287.1" cy="53.1" r="7.4"/>
<circle cx="197.9" cy="60.6" r="7.4"/>
<circle cx="215.7" cy="68.4" r="7.4"/>
<circle cx="411.6" cy="75.9" r="7.4"/>
<circle cx="287.1" cy="83.7" r="7.4"/>
</g>
<g fill="#698DD0">
<circle cx="215.7" cy="91.5" r="7.4"/>
<circle cx="233.8" cy="98.6" r="7.4"/>
<circle cx="233.8" cy="106.1" r="7.4"/>
<circle cx="358.3" cy="113.9" r="7.4"/>
</g>
<g fill="#9E3232">
<circle cx="358.3" cy="121.9" r="7.4"/>
</g>
<g fill="#698DD0">
<circle cx="233.8" cy="129" r="7.4"/>
</g>
<g fill="#329E69">
<circle cx="304.7" cy="137" r="7.4"/>
</g>
<g fill="#A1E0A3">
<circle cx="233.8" cy="144.6" r="7.4"/>
</g>
<g fill="#A07AD2">
<circle cx="233.8" cy="152.4" r="7.4"/>
<circle cx="215.7" cy="160.2" r="7.4"/>
<circle cx="215.7" cy="167.2" r="7.4"/>
</g>
<g fill="#A1E0A3">
<circle cx="323.1" cy="175.2" r="7.4"/>
<circle cx="323.1" cy="182.8" r="7.4"/>
</g>
<g fill="#A07AD2">
<circle cx="304.7" cy="190.6" r="7.4"/>
</g>
<g fill="#E2B083">
<circle cx="233.8" cy="198.4" r="7.4"/>
<circle cx="376.1" cy="205.9" r="7.4"/>
<circle cx="287.1" cy="213.7" r="7.4"/>
<circle cx="287.1" cy="221.3" r="7.4"/>
<circle cx="287.1" cy="229" r="7.4"/>
</g>
<g fill="#A1E0A3">
<circle cx="411.6" cy="236.6" r="7.4"/>
</g>
<g fill="#E2B083">
<circle cx="287.1" cy="244.4" r="7.4"/>
<circle cx="411.6" cy="252.2" r="7.4"/>
</g>
<g fill="#A07AD2">
<circle cx="376.1" cy="259.7" r="7.4"/>
</g>
<g fill="#E2B083">
<circle cx="429.4" cy="267.5" r="7.4"/>
<circle cx="393.7" cy="274.5" r="7.4"/>
<circle cx="340.4" cy="282.3" r="7.4"/>
<circle cx="304.7" cy="289.9" r="7.4"/>
<circle cx="411.6" cy="297.4" r="7.4"/>
<circle cx="376.1" cy="305" r="7.4"/>
</g>
<g fill="#A1E0A3">
<circle cx="393.7" cy="312.8" r="7.4"/>
</g>
<g fill="#9E3232">
<circle cx="433" cy="320.3" r="7.4"/>
<circle cx="431.2" cy="328.3" r="7.4"/>
</g>
<g fill="#A07AD2">
<circle cx="358.3" cy="335.4" r="7.4"/>
</g>
<g fill="#E2B083">
<circle cx="358.3" cy="342.9" r="7.4"/>
<circle cx="358.3" cy="349.7" r="7.4"/>
</g>
<g fill="#A1E0A3">
<circle cx="393.7" cy="359" r="7.4"/>
<circle cx="393.7" cy="366.6" r="7.4"/>
</g>
<g fill="#329E69">
<circle cx="197.9" cy="403.5" r="7.4"/>
</g>
<g fill="#A1E0A3">
<circle cx="465.4" cy="373.6" r="7.4"/>
<circle cx="501.1" cy="381.1" r="7.4"/>
</g>
<g fill="#9E3232">
<circle cx="556.4" cy="388.7" r="7.4"/>
<circle cx="522.7" cy="396.5" r="7.4"/>
</g>
<g fill="#329E69">
<circle cx="358.3" cy="412.2" r="7.4"/>
<circle cx="358.3" cy="419.7" r="7.4"/>
</g>
<g fill="#698DD0">
<circle cx="347.7" cy="427" r="7.4"/>
<circle cx="433.7" cy="434.8" r="7.4"/>
</g>
<g fill="#A1E0A3">
<circle cx="393.7" cy="442.4" r="7.4"/>
<circle cx="376.1" cy="449.9" r="7.4"/>
</g>
<g fill="#D87B7B">
<circle cx="429.4" cy="457.7" r="7.4"/>
</g>
<g fill="#A1E0A3">
<circle cx="429.4" cy="479.8" r="7.4"/>
</g>
<g fill="#A07AD2">
<circle cx="429.4" cy="487.6" r="7.4"/>
</g>
<g fill="#E2B083">
<circle cx="429.4" cy="495.9" r="7.4"/>
</g>
<g fill="#A1E0A3">
<circle cx="393.7" cy="503.5" r="7.4"/>
<circle cx="429.4" cy="557" r="7.4"/>
</g>
<g fill="#329E69">
<circle cx="376.1" cy="564.8" r="7.4"/>
<circle cx="358.3" cy="572.3" r="7.4"/>
</g>
<g fill="#698DD0">
<circle cx="270.8" cy="580.1" r="7.4"/>
</g>
<g fill="#9E3232">
<circle cx="376.1" cy="587.7" r="7.4"/>
</g>
<g fill="#698DD0">
<circle cx="411.6" cy="595.2" r="7.4"/>
<circle cx="322.6" cy="602.3" r="7.4"/>
</g>
<g fill="#9E3232">
<circle cx="393.7" cy="609.3" r="7.4"/>
</g>
<g fill="#A1E0A3">
<circle cx="483" cy="465.5" r="7.4"/>
<circle cx="465.4" cy="473" r="7.4"/>
<circle cx="483" cy="511" r="7.4"/>
<circle cx="501.1" cy="518.8" r="7.4"/>
<circle cx="447.3" cy="526.3" r="7.4"/>
</g>
<g fill="#698DD0">
<circle cx="496.3" cy="534.1" r="7.4"/>
</g>
<g fill="#A1E0A3">
<circle cx="447.3" cy="541.7" r="7.4"/>
<circle cx="447.3" cy="549.2" r="7.4"/>
</g>
<g fill="#B8BF3F">
<circle cx="429.4" cy="747.3" r="7.4"/>
</g>
<g fill="#8A6B52">
<circle cx="429.4" cy="755.6" r="7.4"/>
</g>
<g fill="#698DD0">
<circle cx="518.9" cy="618.3" r="7.4"/>
<circle cx="447.3" cy="625.9" r="7.4"/>
</g>
<g fill="#9E3232">
<circle cx="465.4" cy="633.7" r="7.4"/>
<circle cx="652.2" cy="641" r="7.4"/>
<circle cx="647.7" cy="648.8" r="7.4"/>
</g>
<g fill="#698DD0">
<circle cx="447.3" cy="656.3" r="7.4"/>
</g>
<g fill="#9E3232">
<circle cx="518.9" cy="663.8" r="7.4"/>
<circle cx="483" cy="671.4" r="7.4"/>
</g>
<g fill="#698DD0">
<circle cx="518.9" cy="679.2" r="7.4"/>
</g>
<g fill="#9E3232">
<circle cx="483" cy="686.7" r="7.4"/>
</g>
<g fill="#698DD0">
<circle cx="674.1" cy="694.5" r="7.4"/>
<circle cx="483" cy="702.1" r="7.4"/>
<circle cx="483" cy="709.9" r="7.4"/>
</g>
<g fill="#9E3232">
<circle cx="483" cy="717.6" r="7.4"/>
<circle cx="465.4" cy="725.2" r="7.4"/>
</g>
<g fill="#698DD0">
<circle cx="536.5" cy="732.7" r="7.4"/>
<circle cx="518.9" cy="740.3" r="7.4"/>
</g>
<g fill="#8A6B52">
<circle cx="518.9" cy="762.4" r="7.4"/>
<circle cx="518.9" cy="770.7" r="7.4"/>
</g>
<g fill="#B8BF3F">
<circle cx="572.2" cy="778.5" r="7.4"/>
</g>
<g fill="#8A6B52">
<circle cx="536.5" cy="784.5" r="7.4"/>
</g>
<g fill="#B8BF3F">
<circle cx="411.6" cy="809.1" r="7.4"/>
<circle cx="393.7" cy="854.9" r="7.4"/>
<circle cx="411.6" cy="862.7" r="7.4"/>
<circle cx="393.7" cy="870.2" r="7.4"/>
<circle cx="393.7" cy="877.8" r="7.4"/>
<circle cx="393.7" cy="885.3" r="7.4"/>
<circle cx="411.6" cy="893.1" r="7.4"/>
<circle cx="393.7" cy="900.9" r="7.4"/>
</g>
<g fill="#8A6B52">
<circle cx="429.4" cy="923.5" r="7.4"/>
</g>
<g fill="#329E69">
<circle cx="358.3" cy="931.6" r="7.4"/>
<circle cx="340.4" cy="939.1" r="7.4"/>
<circle cx="340.4" cy="946.7" r="7.4"/>
</g>
<g fill="#698DD0">
<circle cx="393.7" cy="954.2" r="7.4"/>
<circle cx="381.7" cy="961.3" r="7.4"/>
</g>
<g fill="#329E69">
<circle cx="411.6" cy="967.5" r="7.4"/>
</g>
<g fill="#8A6B52">
<circle cx="536.5" cy="793.6" r="7.4"/>
</g>
<g fill="#B8BF3F">
<circle cx="483" cy="801.3" r="7.4"/>
<circle cx="501.1" cy="816.7" r="7.4"/>
<circle cx="483" cy="824.2" r="7.4"/>
<circle cx="554.1" cy="832" r="7.4"/>
</g>
<g fill="#8A6B52">
<circle cx="590.1" cy="839.3" r="7.4"/>
</g>
<g fill="#B8BF3F">
<circle cx="590.1" cy="847.6" r="7.4"/>
</g>
<g fill="#8A6B52">
<circle cx="447.3" cy="908.5" r="7.4"/>
<circle cx="607.7" cy="916" r="7.4"/>
</g>
<g fill="#329E69">
<circle cx="376.1" cy="977.3" r="7.4"/>
<circle cx="358.3" cy="984.9" r="7.4"/>
<circle cx="501.1" cy="992.4" r="7.4"/>
<circle cx="483" cy="1000" r="7.4"/>
<circle cx="489.3" cy="1007.5" r="7.4"/>
<circle cx="495" cy="1015" r="7.4"/>
<circle cx="513.1" cy="1022.6" r="7.4"/>
<circle cx="498.1" cy="1030.1" r="7.4"/>
<circle cx="495" cy="1037.7" r="7.4"/>
<circle cx="493.5" cy="1045.7" r="7.4"/>
<circle cx="447.7" cy="1328.2" r="7.4"/>
<circle cx="426.9" cy="1335.7" r="7.4"/>
<circle cx="426.9" cy="1343.4" r="7.4"/>
<circle cx="426.9" cy="1351.3" r="7.4"/>
<circle cx="483.2" cy="1358.7" r="7.4"/>
<circle cx="483.2" cy="1366.1" r="7.4"/>
</g>
<g fill="#698DD0">
<circle cx="496.7" cy="1373.8" r="7.4"/>
</g>
<g fill="#329E69">
<circle cx="519" cy="1381.7" r="7.4"/>
</g>
<g fill="#698DD0">
<circle cx="505.2" cy="1389.1" r="7.4"/>
<circle cx="500.7" cy="1397.3" r="7.4"/>
<circle cx="492.6" cy="1405" r="7.4"/>
<circle cx="503.7" cy="1412.2" r="7.4"/>
</g>
<g fill="#329E69">
<circle cx="514.9" cy="1420" r="7.4"/>
</g>
<g fill="#698DD0">
<circle cx="504.5" cy="1427.8" r="7.4"/>
</g>
<g fill="#A07AD2">
<circle cx="537.1" cy="1435.2" r="7.4"/>
</g>
<g fill="#A1E0A3">
<circle cx="519" cy="1442.6" r="7.4"/>
<circle cx="519" cy="1450.4" r="7.4"/>
</g>
<g fill="#A07AD2">
<circle cx="544.9" cy="1458.2" r="7.4"/>
</g>
<g fill="#A1E0A3">
<circle cx="500.7" cy="1464.9" r="7.4"/>
<circle cx="500.7" cy="1472.7" r="7.4"/>
</g>
<g fill="#E2B083">
<circle cx="572.1" cy="1480.4" r="7.4"/>
<circle cx="572.1" cy="1488.3" r="7.4"/>
<circle cx="519" cy="1496" r="7.4"/>
<circle cx="519" cy="1503.9" r="7.4"/>
<circle cx="572.1" cy="1511.6" r="7.4"/>
<circle cx="536.7" cy="1519.5" r="7.4"/>
<circle cx="536.7" cy="1526.9" r="7.4"/>
</g>
<g fill="#A1E0A3">
<circle cx="536.7" cy="1535.1" r="7.4"/>
</g>
<g fill="#A07AD2">
<circle cx="536.7" cy="1542.5" r="7.4"/>
</g>
<g fill="#A1E0A3">
<circle cx="519" cy="1549.9" r="7.4"/>
</g>
<g fill="#698DD0">
<circle cx="500.7" cy="1557.4" r="7.4"/>
</g>
<g fill="#A07AD2">
<circle cx="536.7" cy="1565.5" r="7.4"/>
<circle cx="536.7" cy="1573.3" r="7.4"/>
<circle cx="536.7" cy="1581.1" r="7.4"/>
</g>
<g fill="#E2B083">
<circle cx="572.1" cy="1587.8" r="7.4"/>
</g>
<g fill="#A07AD2">
<circle cx="536.4" cy="1572.5" r="7.4"/>
<circle cx="578.4" cy="1595.7" r="7.4"/>
<circle cx="577.4" cy="1603.5" r="7.4"/>
<circle cx="577.4" cy="1611.1" r="7.4"/>
<circle cx="576.3" cy="1619" r="7.4"/>
<circle cx="575.3" cy="1626.6" r="7.4"/>
<circle cx="578" cy="1634.2" r="7.4"/>
<circle cx="623.7" cy="1642" r="7.4"/>
<circle cx="626.7" cy="1649.6" r="7.4"/>
</g>
<g fill="#329E69">
<circle cx="680.6" cy="1656.8" r="7.4"/>
<circle cx="651.2" cy="1664.2" r="7.4"/>
</g>
<g fill="#E2B083">
<circle cx="536.6" cy="1671.8" r="7.4"/>
</g>
<g fill="#A07AD2">
<circle cx="576.8" cy="1679.6" r="7.4"/>
<circle cx="575.3" cy="1686.8" r="7.4"/>
<circle cx="733.1" cy="1694.9" r="7.4"/>
<circle cx="647.9" cy="1702.7" r="7.4"/>
</g>
<g fill="#9E3232">
<circle cx="595.5" cy="1710.3" r="7.4"/>
<circle cx="588.1" cy="1717.5" r="7.4"/>
</g>
<g fill="#E2B083">
<circle cx="701.1" cy="1053.4" r="7.4"/>
</g>
<g fill="#A07AD2">
<circle cx="738.3" cy="1060.9" r="7.4"/>
<circle cx="737.1" cy="1068.6" r="7.4"/>
<circle cx="734.3" cy="1076.3" r="7.4"/>
<circle cx="744.6" cy="1084" r="7.4"/>
<circle cx="741.1" cy="1091.7" r="7.4"/>
<circle cx="717.1" cy="1099.5" r="7.4"/>
<circle cx="737.1" cy="1107.2" r="7.4"/>
<circle cx="734.3" cy="1114.9" r="7.4"/>
<circle cx="720" cy="1122.6" r="7.4"/>
<circle cx="742.3" cy="1130.3" r="7.4"/>
<circle cx="734.3" cy="1138" r="7.4"/>
<circle cx="744.6" cy="1145.7" r="7.4"/>
<circle cx="741.1" cy="1153.4" r="7.4"/>
<circle cx="737.7" cy="1161.1" r="7.4"/>
<circle cx="737.7" cy="1168.8" r="7.4"/>
<circle cx="740" cy="1176.6" r="7.4"/>
<circle cx="734.3" cy="1184.3" r="7.4"/>
<circle cx="737" cy="1192" r="7.4"/>
<circle cx="740" cy="1199.7" r="7.4"/>
<circle cx="743.4" cy="1207.4" r="7.4"/>
<circle cx="738" cy="1215.1" r="7.4"/>
<circle cx="735" cy="1222.8" r="7.4"/>
<circle cx="734.3" cy="1230.5" r="7.4"/>
<circle cx="740" cy="1238.2" r="7.4"/>
<circle cx="738" cy="1245.9" r="7.4"/>
<circle cx="735.5" cy="1253.7" r="7.4"/>
<circle cx="735.5" cy="1261.4" r="7.4"/>
<circle cx="735.5" cy="1269.1" r="7.4"/>
<circle cx="735.5" cy="1276.8" r="7.4"/>
<circle cx="735.5" cy="1284.5" r="7.4"/>
<circle cx="735.5" cy="1292.2" r="7.4"/>
<circle cx="735.5" cy="1299.9" r="7.4"/>
<circle cx="735.5" cy="1307.6" r="7.4"/>
<circle cx="735.5" cy="1315.3" r="7.4"/>
<circle cx="735.5" cy="1323" r="7.4"/>
</g>
<path d="M763.8 1061.8H774.7V1106.5H763.8" fill="none" stroke="#3a3a3a" stroke-width="3"/>
<path d="M763.8 1122.3H774.7V1222.7H763.8" fill="none" stroke="#3a3a3a" stroke-width="3"/>
<path d="M593.8 1589H605V1624.5H593.8" fill="none" stroke="#3a3a3a" stroke-width="3"/>
<g>
<text x="779.30" y="1103.15" font-size="40" font-weight="bold">*</text>
<text x="779.30" y="1192.55" font-size="40" font-weight="bold">*</text>
<text x="609.30" y="1628.05" font-size="40" font-weight="bold">*</text>
<text x="21.67" y="56.70" font-size="46.3" font-weight="bold" textLength="32.55" lengthAdjust="spacingAndGlyphs">A</text>
<text x="611.70" y="48.90" font-size="39" font-weight="bold" textLength="166.42" lengthAdjust="spacingAndGlyphs">Dengue 2</text>
<text x="106.60" y="206.40" font-size="32" font-weight="bold" textLength="56.39" lengthAdjust="spacingAndGlyphs">BR1</text>
<path d="M7.2 0L-7.2 -6.6L-5.4 0L-7.2 6.6z" fill="#333" transform="translate(178.2 195.7) rotate(0)"/>
<text x="227.34" y="475.20" font-size="32" font-weight="bold" textLength="60.99" lengthAdjust="spacingAndGlyphs">BR2</text>
<path d="M7.2 0L-7.2 -6.6L-5.4 0L-7.2 6.6z" fill="#333" transform="translate(305.5 464.2) rotate(0)"/>
<text x="553.67" y="1088.60" font-size="32" font-weight="bold" textLength="60.20" lengthAdjust="spacingAndGlyphs">BR4</text>
<path d="M7.2 0L-7.2 -6.6L-5.4 0L-7.2 6.6z" fill="#333" transform="translate(625.6 1077.9) rotate(0)"/>
<text x="367.34" y="1503.60" font-size="32" font-weight="bold" textLength="61.04" lengthAdjust="spacingAndGlyphs">BR3</text>
<path d="M7.2 0L-7.2 -6.6L-5.4 0L-7.2 6.6z" fill="#333" transform="translate(440.2 1493) rotate(0)"/>
<text x="44.78" y="1142.00" font-size="31.5" font-weight="bold" textLength="126.38" lengthAdjust="spacingAndGlyphs">Samples</text>
<text x="40.89" y="1188.05" font-size="38" font-weight="bold">*</text>
<text x="66.51" y="1177.60" font-size="28.5" fill="#333" textLength="266.56" lengthAdjust="spacingAndGlyphs">New genomes (n=23)</text>
<text x="44.22" y="1236.30" font-size="31.5" font-weight="bold" textLength="302.65" lengthAdjust="spacingAndGlyphs">Posterior Probability</text>
<circle cx="48.5" cy="1262.3" r="4.8" fill="#fff" stroke="#000" stroke-width="3.2"/>
<text x="70.12" y="1272.60" font-size="28.5" textLength="78.76" lengthAdjust="spacingAndGlyphs">&gt; 90%</text>
<text x="44.22" y="1328.00" font-size="31.5" font-weight="bold" textLength="121.30" lengthAdjust="spacingAndGlyphs">Regions</text>
<circle cx="48.4" cy="1361.4" r="9.5" fill="#D87B7B"/>
<text x="69.59" y="1371.20" font-size="28.3" textLength="225.23" lengthAdjust="spacingAndGlyphs">BrazilCenterW est</text>
<circle cx="48.4" cy="1406.2" r="9.5" fill="#A1E0A3"/>
<text x="69.59" y="1416.17" font-size="28.3" textLength="138.35" lengthAdjust="spacingAndGlyphs">BrazilNorth</text>
<circle cx="48.4" cy="1451.1" r="9.5" fill="#E2B083"/>
<text x="69.60" y="1461.14" font-size="28.3" textLength="190.34" lengthAdjust="spacingAndGlyphs">BrazilNortheast</text>
<circle cx="48.4" cy="1496" r="9.5" fill="#A07AD2"/>
<text x="69.61" y="1506.11" font-size="28.3" textLength="194.58" lengthAdjust="spacingAndGlyphs">BrazilSoutheast</text>
<circle cx="48.4" cy="1540.8" r="9.5" fill="#329E69"/>
<text x="70.51" y="1551.08" font-size="28.3" textLength="127.94" lengthAdjust="spacingAndGlyphs">Caribbean</text>
<circle cx="48.4" cy="1585.7" r="9.5" fill="#B8BF3F"/>
<text x="70.52" y="1596.05" font-size="28.3" textLength="189.71" lengthAdjust="spacingAndGlyphs">CentralAmerica</text>
<circle cx="48.4" cy="1630.5" r="9.5" fill="#8A6B52"/>
<text x="69.59" y="1641.02" font-size="28.3" textLength="88.63" lengthAdjust="spacingAndGlyphs">Mexico</text>
<circle cx="48.4" cy="1675.4" r="9.5" fill="#698DD0"/>
<text x="69.61" y="1685.99" font-size="28.3" textLength="281.93" lengthAdjust="spacingAndGlyphs">NorthernSouthAmerica</text>
<circle cx="48.4" cy="1720.2" r="9.5" fill="#9E3232"/>
<text x="71.76" y="1730.96" font-size="28.3" textLength="274.67" lengthAdjust="spacingAndGlyphs">WesternSouthAmerica</text>
<path d="M46.4 1759V1770.5" stroke="#000" stroke-width="2.6"/>
<text x="15.07" y="1804.70" font-size="32" textLength="69.17" lengthAdjust="spacingAndGlyphs">1980</text>
<path d="M224.7 1759V1770.5" stroke="#000" stroke-width="2.6"/>
<text x="192.84" y="1804.70" font-size="32" textLength="69.90" lengthAdjust="spacingAndGlyphs">1990</text>
<path d="M403 1759V1770.5" stroke="#000" stroke-width="2.6"/>
<text x="368.62" y="1804.70" font-size="32" textLength="70.13" lengthAdjust="spacingAndGlyphs">2000</text>
<path d="M581.3 1759V1770.5" stroke="#000" stroke-width="2.6"/>
<text x="547.94" y="1804.70" font-size="32" textLength="69.50" lengthAdjust="spacingAndGlyphs">2010</text>
<path d="M759.6 1759V1770.5" stroke="#000" stroke-width="2.6"/>
<text x="726.47" y="1804.70" font-size="32" textLength="68.25" lengthAdjust="spacingAndGlyphs">2020</text>
</g>
<rect x="1.5" y="3.5" width="803.5" height="1755.3" fill="none" stroke="#000" stroke-width="2.7"/>
<path d="M900.9 926.4L738.3 1052.7" stroke="#000" stroke-width="3.3" stroke-dasharray="16.3 8.5" stroke-dashoffset="2.7" fill="none"/>
<path d="M734.6 1329L901.2 1758.8" stroke="#000" stroke-width="3.3" stroke-dasharray="16.3 8.5" fill="none"/>
</g>
<g id="panelB">
<defs>
<clipPath id="clipB"><rect x="901.5" y="3.2" width="838" height="844.8"/></clipPath>
<filter id="blur3" x="-30%" y="-30%" width="160%" height="160%"><feGaussianBlur stdDeviation="3"/></filter>
<filter id="blur5" x="-30%" y="-30%" width="160%" height="160%"><feGaussianBlur stdDeviation="5"/></filter>
<filter id="blur2" x="-30%" y="-30%" width="160%" height="160%"><feGaussianBlur stdDeviation="2"/></filter>
<linearGradient id="cbar" x1="0" x2="1" y1="0" y2="0"><stop offset="0" stop-color="#3A7FBD"/><stop offset="0.18" stop-color="#7FB2D8"/><stop offset="0.36" stop-color="#C3DDEC"/><stop offset="0.52" stop-color="#F6F1EE"/><stop offset="0.68" stop-color="#FAD2BE"/><stop offset="0.84" stop-color="#EA8C72"/><stop offset="1" stop-color="#C5383C"/></linearGradient>
</defs>
<rect x="901.5" y="3.2" width="838" height="844.8" fill="#f2f2f2"/>
<g clip-path="url(#clipB)">
<path d="M1738.2 813.9L1731.6 815.7L1726.3 819.7L1717.1 822.3L1713.2 827.5L1710.6 832.8L1712.7 839.4L1707.9 842.8L1700.1 845.9L1694.8 848.6L1750 848.6L1750 813.9z" fill="#fff"/>
<g fill="none" stroke="#7c7c7c" stroke-width="2.4" stroke-linejoin="round">
<path d="M899.1 185.3C900.2 184.2 902.9 180.9 905.7 178.7C908.6 176.6 913.2 173.9 916.2 172.2C919.3 170.4 920.6 170.1 924.1 168.2C927.6 166.3 931.8 162.9 937.3 160.9C942.7 158.8 952.6 157.7 957 155.9C961.4 154 961.1 152.4 963.5 149.8C966 147.3 968.1 142.7 971.4 140.6C974.7 138.5 980.2 138.2 983.3 137.2C986.3 136.2 987.4 134.5 989.8 134.6C992.2 134.7 994.4 135.7 997.7 138C1001 140.3 1006 146.5 1009.5 148.5C1013 150.5 1014.8 149.7 1018.7 149.8C1022.7 150 1029.3 149.2 1033.2 149.3C1037.1 149.4 1039.1 150.4 1042.4 150.6C1045.7 150.8 1049.6 149.4 1052.9 150.6C1056.2 151.8 1058.4 156.4 1062.1 157.7C1065.8 159 1071.5 157.7 1075.3 158.2C1079 158.8 1081.6 160.3 1084.5 160.9C1087.3 161.4 1088.8 162 1092.3 161.7C1095.8 161.4 1101.1 159.3 1105.5 159C1109.9 158.7 1114.5 159.8 1118.6 159.8C1122.8 159.9 1127.4 159.9 1130.5 159.3C1133.5 158.7 1134.6 157 1137 156.4C1139.4 155.8 1142.5 155.4 1144.9 155.6C1147.3 155.8 1150 156.4 1151.5 157.7C1153 159 1152.4 161.7 1154.1 163.5C1155.9 165.2 1158.3 167.4 1162 168.2C1165.7 169.1 1172.7 169.2 1176.5 168.8C1180.2 168.3 1181.7 166.1 1184.3 165.6C1187 165.1 1190.4 165.1 1192.2 165.6C1194.1 166.1 1195.2 167.7 1195.4 168.8C1195.6 169.8 1194.9 171.5 1193.5 172.2C1192.2 172.9 1188.9 171.4 1187.5 173C1186.1 174.5 1185.5 178.2 1185.1 181.4C1184.7 184.5 1184.8 188.6 1185.1 191.9C1185.4 195.2 1185.8 197.8 1187 201.1C1188.2 204.4 1190.5 208.3 1192.2 211.6C1194 214.9 1195.1 218.7 1197.5 220.8C1199.9 222.9 1203.6 224.7 1206.7 224.2C1209.8 223.8 1213.5 220.9 1215.9 218.2C1218.3 215.4 1219.6 211.2 1221.1 207.7C1222.7 204.2 1222.9 199 1225.1 197.1C1227.3 195.3 1231.8 195.8 1234.3 196.6C1236.8 197.4 1238.8 198.3 1240.1 201.9C1241.4 205.5 1241.8 212.2 1242.2 218.2C1242.5 224.2 1240.2 233.3 1242.2 237.9C1244.1 242.5 1251.3 245.3 1254 245.8C1256.7 246.2 1258 242.9 1258.5 240.5C1258.9 238.1 1257.2 234.2 1256.6 231.3C1256.1 228.5 1255.3 226.1 1255.3 223.4C1255.3 220.8 1255.8 218 1256.6 215.5C1257.5 213.1 1259.7 211.4 1260.6 209C1261.4 206.6 1260.1 202.8 1261.9 201.1C1263.6 199.3 1267.8 199.2 1271.1 198.5C1274.4 197.7 1278.1 196.5 1281.6 196.6C1285.1 196.7 1289.8 198.7 1292.1 199.2C1294.4 199.8 1293 200.6 1295.3 199.8C1297.5 199 1301.4 195.3 1305.8 194.5C1310.2 193.7 1316.7 195.6 1321.5 195C1326.4 194.5 1331.2 191.5 1334.7 191.1C1338.2 190.7 1340.2 192.4 1342.6 192.4C1345 192.4 1347.2 191 1349.1 191.1C1351.1 191.2 1353.1 192.5 1354.4 193.2C1355.7 193.9 1355.7 194.7 1357 195C1358.3 195.4 1360.5 195.7 1362.3 195.3C1364 194.9 1366.9 193.8 1367.5 192.7C1368.2 191.6 1367.1 190 1366.2 188.7C1365.4 187.5 1362.9 187 1362.3 185.3C1361.6 183.6 1361.8 180.3 1362.3 178.7C1362.7 177.2 1363.8 176.3 1364.9 176.1C1366 175.9 1367.5 176.3 1368.9 177.4C1370.2 178.5 1371.7 180.9 1372.8 182.7C1373.9 184.4 1374.3 186.4 1375.4 187.9C1376.5 189.5 1377.8 190.7 1379.4 191.9C1380.9 193.1 1382.4 194.6 1384.6 195.3C1386.8 196 1390.3 196.2 1392.5 195.8C1394.7 195.5 1396.7 194.1 1397.8 193.2C1398.9 192.3 1398.2 191.4 1399.1 190.6C1400 189.7 1401.9 189.3 1403 187.9C1404.1 186.6 1405 184.3 1405.7 182.7C1406.3 181.1 1406.3 179 1407 178.2C1407.6 177.4 1408.5 177.4 1409.6 178C1410.7 178.5 1412.7 179.7 1413.5 181.4C1414.4 183 1413.5 186.1 1414.9 187.9C1416.2 189.8 1419.9 192.7 1421.4 192.7C1423 192.7 1423.2 190.3 1424.1 187.9C1424.9 185.6 1426.5 181.2 1426.7 178.7C1426.9 176.3 1425.2 174.9 1425.4 173.5C1425.6 172.1 1426 171.2 1428 170.3C1430 169.5 1434.4 168.4 1437.2 168.2C1440 168.1 1442.5 169.7 1445.1 169.5C1447.7 169.4 1450.8 167.1 1453 167.4C1455.2 167.7 1456.9 169.9 1458.2 171.4C1459.5 172.8 1459.6 174.7 1460.9 176.1C1462.1 177.6 1464.1 179.6 1465.6 180.1C1467.1 180.5 1469 179.8 1470.1 178.7C1471.2 177.6 1471.5 174.7 1472.2 173.5C1472.8 172.3 1472.2 172 1474 171.4C1475.8 170.7 1481 170.4 1483.2 169.5C1485.4 168.7 1485.6 166.9 1487.1 166.1C1488.7 165.4 1490.9 164.5 1492.4 165.1C1493.9 165.6 1495 168.1 1496.3 169.5C1497.7 171 1500.1 172.5 1500.3 174C1500.5 175.5 1497.2 176.9 1497.7 178.7C1498.1 180.6 1501.2 184 1502.9 185.3C1504.7 186.6 1506.4 185.9 1508.2 186.6C1509.9 187.4 1511.2 188.6 1513.4 189.8C1515.6 191 1519.3 192.8 1521.3 194C1523.3 195.2 1524.2 196.2 1525.3 197.1C1526.4 198.1 1527.2 198.7 1527.9 199.8C1528.5 200.9 1528.3 202.2 1529.2 203.7C1530.1 205.2 1532.9 207 1533.1 209C1533.4 210.9 1531.6 213.6 1530.5 215.5C1529.4 217.5 1527.7 219 1526.6 220.8C1525.5 222.6 1524.7 224.3 1523.9 226.1C1523.2 227.8 1522.2 229.6 1522.1 231.3C1522 233.1 1523.3 233.9 1523.4 236.6C1523.5 239.2 1522.1 244.7 1522.6 247.1C1523.2 249.5 1524.6 249.7 1526.6 251C1528.5 252.3 1531.2 253.5 1534.5 255C1537.7 256.4 1543.9 258 1546.3 259.7C1548.7 261.5 1548.3 263.4 1548.9 265.5C1549.6 267.5 1549.4 269.9 1550.2 272.1C1551.1 274.2 1553.3 277 1554.2 278.6C1555 280.3 1555.5 280.3 1555.4 282C1555.4 283.7 1554.4 287.3 1553.7 288.9C1553 290.4 1552.8 291.1 1551.1 291.4C1549.5 291.8 1545.5 290.2 1543.9 290.9C1542.4 291.6 1542.5 293.8 1541.7 295.7C1541 297.7 1540.6 300.7 1539.5 302.6C1538.3 304.4 1535.6 305.3 1534.9 306.9C1534.1 308.4 1535.8 309.6 1535.2 312C1534.6 314.4 1531.6 318.8 1531.4 321.1C1531.2 323.4 1532.7 324.4 1534 325.7C1535.3 327.1 1537.6 327.9 1539.1 329.1C1540.7 330.4 1542.1 332.3 1543.4 333.4C1544.8 334.6 1547 334.3 1547.4 336C1547.7 337.7 1545.5 340.7 1545.7 343.7C1545.9 346.7 1547.4 351.4 1548.6 354C1549.8 356.6 1552.7 357.6 1552.9 359.1C1553 360.7 1549.6 361.3 1549.4 363.4C1549.3 365.6 1550.3 369.7 1552 372C1553.7 374.3 1558.1 375.6 1559.7 377.1C1561.3 378.7 1560.7 379.6 1561.4 381.4C1562.1 383.3 1562.9 385.9 1564 388.3C1565.1 390.7 1567 393.9 1568.3 396C1569.6 398.1 1571.6 398.6 1571.7 401.1C1571.9 403.7 1568.3 409.6 1569.1 411.4C1570 413.3 1574.1 412.1 1576.9 412.3C1579.6 412.4 1582.6 413 1585.4 412.3C1588.3 411.6 1591.7 409.1 1594 408C1596.3 406.9 1598.1 406.3 1599.1 405.4C1600.1 404.6 1598.9 403.2 1600 402.9C1601.1 402.5 1604.1 403.6 1606 403.4C1607.9 403.2 1609.7 401.3 1611.1 401.7C1612.6 402 1612.9 404.4 1614.6 405.4C1616.3 406.5 1619.9 408.1 1621.4 408C1623 407.9 1622.9 405.6 1624 404.6C1625.1 403.5 1627.1 402 1628.3 401.7C1629.4 401.3 1630.3 401.4 1630.9 402.3C1631.4 403.3 1630.5 405.5 1631.4 407.1C1632.2 408.8 1636.5 411.1 1636 412.3C1635.5 413.4 1630.7 413.4 1628.3 414C1625.9 414.6 1623.1 414.6 1621.4 415.7C1619.8 416.9 1618.2 419.3 1618.3 420.9C1618.5 422.4 1622.5 423.7 1622.3 425.1C1622.1 426.6 1618.9 428.1 1617.1 429.4C1615.4 430.7 1612.8 431.6 1612 432.9C1611.2 434.1 1611.7 436.1 1612.5 437.1C1613.4 438.1 1616.1 438 1617.1 438.9C1618.2 439.7 1617.4 441.4 1618.9 442.3C1620.3 443.1 1623.6 444 1625.7 444C1627.9 444 1630.1 442 1631.7 442.3C1633.3 442.6 1634.1 444.4 1635.1 445.7C1636.2 447.1 1638.2 448.9 1638.2 450.3C1638.2 451.8 1635.8 451.2 1635.1 454.3C1634.5 457.4 1635.1 465.9 1634.3 468.9C1633.4 471.9 1631.3 470.7 1630 472.3C1628.7 473.9 1627.7 476.6 1626.6 478.3C1625.5 479.9 1623.3 480.9 1623.5 482.2C1623.6 483.5 1626.3 484.7 1627.4 486C1628.5 487.3 1630.1 488.9 1630 490.3C1629.9 491.7 1626.7 492.7 1626.6 494.6C1626.4 496.4 1628.3 499.4 1629.1 501.4C1630 503.4 1630.4 505 1631.7 506.6C1633 508.1 1636.9 509.9 1636.9 510.9C1636.9 511.9 1633.6 512 1631.7 512.6C1629.9 513.1 1626.9 513.3 1625.7 514.3C1624.6 515.3 1624.4 517.4 1624.9 518.6C1625.3 519.7 1629.3 520.4 1628.3 521.1C1627.3 521.9 1620 522.1 1618.9 522.9C1617.7 523.6 1619.6 524.9 1621.4 525.4C1623.3 526 1627.7 525.6 1630 526.3C1632.3 527 1633.7 528.7 1635.1 529.7C1636.6 530.8 1639.1 531.6 1638.6 532.6C1638 533.6 1633.7 534.5 1631.7 535.7C1629.7 536.9 1627.7 538 1626.6 540C1625.4 542 1625.9 545.3 1624.9 547.7C1623.9 550.1 1621.4 552.6 1620.6 554.6C1619.7 556.6 1620.1 558.4 1619.7 559.7C1619.3 561 1617.3 561.2 1618 562.3C1618.7 563.3 1622.4 564.5 1623.8 566C1625.2 567.5 1625.8 569.1 1626.5 571.3C1627.1 573.4 1626.5 577.2 1627.8 579.1C1629.1 581.1 1631.7 582.2 1634.3 583.1C1637 584 1641.4 583.3 1643.5 584.4C1645.7 585.5 1645.5 587.9 1647.5 589.7C1649.5 591.4 1652.5 593.6 1655.4 594.9C1658.2 596.2 1662 596.2 1664.6 597.5C1667.1 598.9 1670 600.8 1670.6 602.8C1671.3 604.8 1668.6 607.2 1668.5 609.4C1668.4 611.6 1669 614.2 1669.8 615.9C1670.7 617.7 1674.2 618.7 1673.8 619.9C1673.3 621.1 1669.6 622.2 1667.2 623C1664.8 623.9 1660.2 623.7 1659.3 625.1C1658.4 626.6 1660 630.1 1661.9 631.7C1663.9 633.3 1668.3 634 1671.1 634.9C1674 635.7 1677.1 636.2 1679 637C1681 637.8 1683 638.1 1683 639.6C1683 641.1 1680.3 643.3 1679 646.2C1677.7 649 1674.9 654.1 1675.1 656.7C1675.3 659.3 1677.9 661.5 1680.3 661.9C1682.8 662.4 1686.7 659.7 1689.5 659.3C1692.4 659 1694.8 660.3 1697.4 659.8C1700.1 659.4 1702.5 657.3 1705.3 656.7C1708.2 656 1713 654.8 1714.5 655.9C1716 657 1714.1 661.7 1714.5 663.3C1715 664.8 1715.2 665.4 1717.1 665.1C1719.1 664.7 1722.6 662 1726.3 661.2C1730.1 660.3 1737.3 660.1 1739.5 659.8"/>
<path d="M985.9 1.3C985.4 3.1 984.6 8.8 983.3 11.8C981.9 14.9 980 17.4 978 19.7C976 22 975.2 24.4 971.4 25.5C967.7 26.6 958.5 25.3 955.7 26.3C952.8 27.3 956.3 30 954.3 31.5C952.4 33.1 945.8 33.5 943.8 35.5C941.9 37.5 944.5 41 942.5 43.4C940.5 45.8 934.4 46.9 932 49.9C929.6 53 929.6 58.3 928.1 61.8C926.5 65.3 923.2 68.3 922.8 71C922.4 73.6 924.1 75.6 925.4 77.5C926.7 79.5 930.2 81.3 930.7 82.8C931.1 84.3 930 86.5 928.1 86.7C926.1 87 921.9 85 918.9 84.1C915.8 83.2 912.3 82.8 909.7 81.5C907 80.2 904.8 77.9 903.1 76.2C901.3 74.6 899.8 72.3 899.1 71.5"/>
<path d="M899.1 74.9C900 75.2 902.9 75.7 904.4 76.8C905.9 77.8 907.8 79.6 908.3 81.5C908.9 83.4 906.9 85.6 907.8 88.1C908.7 90.5 912.5 93.8 913.6 95.9C914.7 98.1 915.7 100.3 914.4 101.2C913.1 102.1 908 100.5 905.7 101.2C903.4 101.9 901.3 104.5 900.5 105.1"/>
<path d="M901.7 642.7C902.6 642.9 905.3 643.2 907.1 643.8C909 644.3 910.8 645.9 912.6 645.9C914.4 646 916 643.8 918 644.2C920 644.6 923.4 647.5 924.5 648.1"/>
<path d="M1136.2 827.3C1137 828 1139.3 830.3 1140.6 831.6C1141.8 832.9 1142.2 834.1 1143.8 834.9C1145.5 835.6 1148.9 834.9 1150.3 835.9C1151.8 837 1151.9 839.4 1152.5 841.4C1153.1 843.4 1153.8 846.8 1154 847.9" stroke-width="2.9"/>
<path d="M1738.2 813.9C1737.1 814.2 1733.6 814.8 1731.6 815.7C1729.6 816.7 1728.8 818.6 1726.3 819.7C1723.9 820.8 1719.3 821 1717.1 822.3C1715 823.6 1714.3 825.8 1713.2 827.5C1712.1 829.3 1710.7 830.8 1710.6 832.8C1710.5 834.8 1713.1 837.7 1712.7 839.4C1712.2 841 1710 841.7 1707.9 842.8C1705.8 843.9 1702.2 845 1700.1 845.9C1697.9 846.9 1695.7 848.1 1694.8 848.6"/>
<path d="M1663.3 834.1C1664.6 833.9 1668.5 833.7 1671.1 832.8C1673.8 831.9 1676.8 828.9 1679 828.9C1681.2 828.9 1681.7 832.4 1684.3 832.8C1686.9 833.2 1691.3 831.3 1694.8 831.5C1698.3 831.7 1704.4 832.8 1705.3 834.1C1706.2 835.4 1702.7 838.7 1700.1 839.4C1697.4 840 1693 837.8 1689.5 838.1C1686 838.3 1682.3 840.6 1679 840.7C1675.7 840.8 1672 838.4 1669.8 838.6C1667.6 838.8 1665.9 840.8 1665.9 842C1665.9 843.2 1666.8 845.5 1669.8 845.9C1672.9 846.4 1680.6 844.4 1684.3 844.6C1688 844.8 1690.9 846.8 1692.2 847.3" stroke-width="2.6"/>
</g>
<ellipse cx="1434.5" cy="375" rx="56" ry="27" transform="rotate(18 1434.5 375)" opacity="0.68" filter="url(#blur3)" fill="none" stroke="#CBE1F0" stroke-width="14"/>
<ellipse cx="1378" cy="366" rx="13" ry="5" transform="rotate(5 1378 366)" opacity="0.8" filter="url(#blur3)" fill="#D3E5F2"/>
<ellipse cx="1385" cy="368" rx="14" ry="5" transform="rotate(10 1385 368)" opacity="0.7" filter="url(#blur3)" fill="#CFE3F1"/>
<ellipse cx="1437" cy="373" rx="42" ry="20" transform="rotate(22 1437 373)" opacity="0.95" filter="url(#blur3)" fill="#F7F1EE"/>
<ellipse cx="1440" cy="376" rx="36" ry="16" transform="rotate(25 1440 376)" opacity="0.95" filter="url(#blur3)" fill="#FBDFD1"/>
<ellipse cx="1437" cy="371.6" rx="21" ry="11.5" transform="rotate(10 1437 371.6)" opacity="0.95" filter="url(#blur2)" fill="#E17A62"/>
<ellipse cx="1365" cy="416" rx="22" ry="6" transform="rotate(8 1365 416)" opacity="0.6" filter="url(#blur3)" fill="#D6E6F2"/>
<ellipse cx="1415" cy="420" rx="13" ry="15" transform="rotate(0 1415 420)" opacity="0.65" filter="url(#blur3)" fill="#D6E6F2"/>
<ellipse cx="1400" cy="441" rx="24" ry="9" transform="rotate(30 1400 441)" opacity="0.6" filter="url(#blur3)" fill="#D9E8F3"/>
<ellipse cx="1372" cy="474" rx="54" ry="25" transform="rotate(28 1372 474)" opacity="0.8" filter="url(#blur5)" fill="#D4E6F2"/>
<ellipse cx="1374" cy="472" rx="48" ry="19" transform="rotate(30 1374 472)" opacity="0.95" filter="url(#blur3)" fill="#FBDDCF"/>
<ellipse cx="1380" cy="480" rx="30" ry="12" transform="rotate(30 1380 480)" opacity="0.7" filter="url(#blur3)" fill="#FAD3C2"/>
<ellipse cx="1374.7" cy="474" rx="14" ry="11" transform="rotate(20 1374.7 474)" opacity="0.95" filter="url(#blur2)" fill="#E27E66"/>
<ellipse cx="1180" cy="314" rx="56" ry="21" transform="rotate(27 1180 314)" opacity="0.8" filter="url(#blur5)" fill="#D5E6F2"/>
<ellipse cx="1166" cy="305" rx="54" ry="17" transform="rotate(28 1166 305)" opacity="0.95" filter="url(#blur3)" fill="#FBDDCD"/>
<ellipse cx="1180" cy="318" rx="32" ry="13" transform="rotate(28 1180 318)" opacity="0.6" filter="url(#blur3)" fill="#FAD5C3"/>
<ellipse cx="1120" cy="294" rx="20" ry="6" transform="rotate(22 1120 294)" opacity="0.8" filter="url(#blur3)" fill="#FBE5DA"/>
<g fill="none" stroke="#000" stroke-width="2.1">
<path d="M1435.9 371.4C1432.9 368.7 1427.6 361.4 1418 355.1C1408.4 348.9 1393.9 340.3 1378.6 334.1C1363.2 327.9 1343.5 322.6 1326 317.8C1308.5 313 1291 308.3 1273.4 305.2C1255.9 302.1 1234.4 299.9 1220.9 299.2C1207.3 298.4 1199.8 298.9 1191.9 300.5C1184.1 302 1176.6 307 1173.5 308.4"/>
<path d="M1389.1 417.7C1388.2 415.6 1387.8 410.3 1383.8 405.1C1379.9 399.9 1372.9 392.8 1365.4 386.7C1358 380.6 1350.1 375.1 1339.1 368.3C1328.2 361.5 1312.9 352.5 1299.7 345.9C1286.6 339.4 1273.4 334.1 1260.3 328.9C1247.1 323.6 1231.8 318.1 1220.9 314.4C1209.9 310.7 1202.5 307.5 1194.6 306.5C1186.7 305.5 1177 308 1173.5 308.4"/>
<path d="M1168.8 308.4C1166.5 307.2 1159.6 303.2 1155.1 301.3C1150.7 299.3 1146.4 298.1 1142 296.8C1137.6 295.5 1133.5 293.7 1128.9 293.4C1124.2 293 1116.4 294.5 1113.9 294.7"/>
<path d="M1435.9 371.4C1433.8 372.4 1427.6 374.7 1423.3 377.5C1419 380.2 1414.5 383.8 1410.1 388C1405.7 392.2 1400.5 397.5 1397 402.5C1393.5 407.4 1390.4 415.2 1389.1 417.7"/>
<path d="M1389.1 417.7C1388.2 419.1 1385.6 422.5 1383.8 426.1C1382.1 429.7 1379.9 434.9 1378.6 439.3C1377.3 443.6 1376.6 446.6 1375.9 452.4C1375.2 458.2 1374.6 470.4 1374.4 474"/>
</g>
<path d="M7.2 0L-7.2 -5L-6.5 0L-7.2 5z" fill="#000" transform="translate(1326.2 318.1) rotate(196)"/>
<path d="M7.2 0L-7.2 -5L-6.5 0L-7.2 5z" fill="#000" transform="translate(1300.8 346.6) rotate(207)"/>
<path d="M7.2 0L-7.2 -5L-6.5 0L-7.2 5z" fill="#000" transform="translate(1144.9 297.4) rotate(200)"/>
<path d="M7.2 0L-7.2 -5L-6.5 0L-7.2 5z" fill="#000" transform="translate(1412.1 385.8) rotate(132)"/>
<path d="M7.2 0L-7.2 -5L-6.5 0L-7.2 5z" fill="#000" transform="translate(1377.7 441.9) rotate(100)"/>
<circle cx="1114" cy="294.6" r="4.4" fill="#D9503E" stroke="#000" stroke-width="1.1"/>
<circle cx="1167.7" cy="308.9" r="4.4" fill="#FBEFEA" stroke="#000" stroke-width="1.1"/>
<circle cx="1173.7" cy="309.1" r="4.4" fill="#D5E6F3" stroke="#000" stroke-width="1.1"/>
<circle cx="1435.7" cy="371.3" r="4.7" fill="#C5DCEC" stroke="#000" stroke-width="1.1"/>
<circle cx="1389.2" cy="418" r="4.4" fill="#CFE3F1" stroke="#000" stroke-width="1.1"/>
<circle cx="1374.3" cy="474" r="4.7" fill="#FCEFEA" stroke="#000" stroke-width="1.1"/>
</g>
<rect x="1159.9" y="319.7" width="22.1" height="21.7" rx="2" fill="#fff" stroke="#e9e9e9" stroke-width="0.8"/>
<text x="1165.93" y="336.89" font-size="18.5" font-weight="bold">3</text>
<rect x="1445.7" y="338.7" width="21.4" height="21.4" rx="2" fill="#fff" stroke="#e9e9e9" stroke-width="0.8"/>
<text x="1450.94" y="355.76" font-size="18.5" font-weight="bold">1</text>
<rect x="1332.9" y="459.8" width="20.9" height="21.2" rx="2" fill="#fff" stroke="#e9e9e9" stroke-width="0.8"/>
<text x="1338.26" y="476.85" font-size="18.5" font-weight="bold">2</text>
<text x="1414.55" y="310.10" font-size="24" fill="#383838" textLength="92.69" lengthAdjust="spacingAndGlyphs">Ribeirão</text>
<text x="1431.26" y="331.00" font-size="24" fill="#383838" textLength="59.24" lengthAdjust="spacingAndGlyphs">Preto</text>
<text x="1123.29" y="361.40" font-size="24" fill="#383838" textLength="103.22" lengthAdjust="spacingAndGlyphs">São José</text>
<text x="1105.24" y="383.10" font-size="24" fill="#383838" textLength="138.39" lengthAdjust="spacingAndGlyphs">do Rio Preto</text>
<text x="1315.14" y="516.30" font-size="24" fill="#383838" textLength="122.07" lengthAdjust="spacingAndGlyphs">Araraquara</text>
<text x="1029.67" y="466.80" font-size="35.2" fill="#adadad" textLength="45.27" lengthAdjust="spacingAndGlyphs">SP</text>
<text x="1612.56" y="142.00" font-size="35.2" fill="#adadad" textLength="57.34" lengthAdjust="spacingAndGlyphs">MG</text>
<text x="917.76" y="56.00" font-size="45.5" font-weight="bold" textLength="31.49" lengthAdjust="spacingAndGlyphs">B</text>
<g id="inset">
<rect x="924.5" y="547.6" width="280.6" height="279.7" fill="#fff"/>
<clipPath id="clipI"><rect x="924.5" y="547.6" width="280.6" height="279.7"/></clipPath>
<g clip-path="url(#clipI)" stroke="#2f2f2f" stroke-width="0.55" stroke-linejoin="round">
<path d="M1002.3 712.4L1003.1 723.6L1002.3 736.4L1000.6 749.3L998.9 762.1L996.3 767.3L996.3 775L995.4 781L996.3 787.9L993.7 796.4L990.3 805L987.7 811L985.6 812.7L986 818.7L987.3 823L985.6 827.3L1045.1 827.3L1045.6 822.1L1044.3 820.9L1052.9 821.3L1061.4 819.6L1070 816.1L1072 812.7L1073.7 808.4L1070.3 805.9L1071.1 802.4L1065.1 796.4L1070.3 797.3L1076.3 799.4L1084 800.7L1089.1 797.3L1091.7 794.3L1090.4 791.3L1092.6 788.7L1085.7 783.6L1078 779.3L1069.4 775.4L1079.7 764.7L1089.6 759.6L1090 755.3L1085.7 751L1086.6 745.9L1088.3 742L1081.4 742.4L1079.7 736.4L1076.3 733.9L1067.7 732.6L1068.1 726.1L1066.9 721L1060 718.4L1065.7 720.1L1061.4 718L1053.7 718.4L1046.9 720.1L1044.3 726.1L1041.7 732.6L1035.7 732.6L1033.1 736.4L1029.7 732.1L1023.7 731.7L1019.4 736.4L1016 736.4L1013.4 728.7L1010.9 722.7L1010 716.7L1006.6 709.4z" fill="#CFE4F1"/>
<path d="M995.4 551L992 551.9L986.9 556.1L981.7 557L976.6 558.7L974 562.1L974 565.6L968 569.9L965 574.1L962.9 576.7L964.6 581L965.4 586.1L964.6 589.6L965.4 593L966.3 596.4L962.9 599.9L959.4 602.4L957.7 606.7L956.9 608.9L950.9 611.9L948.3 617.9L946.6 622.1L947.4 627.3L951.7 628.1L950.9 631.6L947.4 635L944.9 637.6L944 641.9L945.7 645.3L944.9 648.7L948.3 651.3L952.6 654.7L956 660.7L960.3 669.3L965.4 678.7L970.6 687.3L970.6 689.3L973.1 693.6L980 698.7L987.7 703L995.4 707.3L997.1 709.9L1002.3 712.4L1006.6 709.4L1010 716.7L1010.9 722.7L1013.4 728.7L1016 736.4L1019.4 736.4L1023.7 731.7L1029.7 732.1L1033.1 736.4L1035.7 732.6L1041.7 732.6L1044.3 726.1L1046.9 720.1L1053.7 718.4L1061.4 718L1065.7 720.1L1068.3 713.3L1070 709.9L1069.4 710.7L1065.1 703L1064.9 703L1056.3 701.7L1054.6 695.3L1053.7 688.4L1053.7 688.1L1046.9 686.4L1041.7 683.9L1034.9 681.3L1028.9 677L1028.4 669.3L1027.1 666.7L1021.1 668.4L1014.3 672.7L1009.1 674.4L1001 673.6L999.7 667.6L992.9 668.4L987.7 665L984.3 654.7L986.9 650.4L988.6 645.3L992.9 641L999.7 639.3L1004.9 637.6L1006.6 627.3L1007.4 622.1L1004.4 617.9L1004 614.4L1007.4 613.6L1004.4 612.7L1005.7 608.4L1014.3 606.7L1018.1 604.1L1016.9 600.7L1018.1 597.3L1016 593L1016.9 588.7L1017.7 584.4L1014.3 583.6L1007.4 584L1004.9 581L999.7 578.4L993.7 578.9L992 576.7L991.1 571.6L987.7 568.1L988.6 563.9L990.3 559.6L992.9 556.1L996.3 554.4L998 552.3z" fill="#CF9899"/>
<path d="M998 552.3L1001.4 553.6L1004.4 552.3L1005.7 554.4L1010 555.7L1013.4 558.7L1014.3 560.4L1023.7 560.4L1027.1 562.6L1031.4 563L1034 560.9L1038.3 560L1043.4 560.4L1046 563L1048.6 563.9L1052 566.4L1053.7 569.9L1057.1 571.6L1061.4 574.1L1064.3 577.6L1065.1 580.1L1071.1 584.4L1077.1 585.3L1082.3 584.4L1088.3 586.1L1096 588.7L1100.3 592.1L1102 593.9L1099.4 598.1L1095.1 604.1L1086.6 605L1084.9 606.7L1078 604.1L1074.6 606.3L1068.6 607.6L1062.6 609.3L1058.9 605L1057.1 601.6L1058.9 594.7L1057.1 591.3L1055.4 589.1L1052.9 591.7L1046.9 593.9L1041.7 595.6L1040 597.3L1034 595.6L1031.4 594.3L1034.9 597.3L1035.7 600.7L1038.3 604.1L1031.4 607.6L1027.1 611.9L1023.7 612.3L1020.3 609.3L1018.1 604.1L1016.9 600.7L1018.1 597.3L1016 593L1016.9 588.7L1017.7 584.4L1014.3 583.6L1007.4 584L1004.9 581L999.7 578.4L993.7 578.9L992 576.7L991.1 571.6L987.7 568.1L988.6 563.9L990.3 559.6L992.9 556.1L996.3 554.4L998 552.3z" fill="#B1C5E8"/>
<path d="M1018.1 604.1L1020.3 609.3L1023.7 612.3L1027.1 611.9L1031.4 607.6L1038.3 604.1L1035.7 600.7L1034.9 597.3L1031.4 594.3L1034 595.6L1040 597.3L1041.7 595.6L1046.9 593.9L1052.9 591.7L1055.4 589.1L1057.1 591.3L1058.9 594.7L1057.1 601.6L1058.9 605L1062.6 609.3L1068.6 607.6L1074.6 606.3L1078 604.1L1084.9 606.7L1086.6 605L1095.1 604.1L1099.4 598.1L1102 593.9L1103.7 595.6L1105.4 604.1L1109.7 608.4L1108 612.7L1110.6 616.1L1117.4 617.9L1118.3 621.3L1123.4 619.6L1129.4 623L1127.7 630.7L1125.1 635.9L1120.9 641L1116.6 644.4L1121.7 646.1L1122.6 654.7L1127.7 659L1126 663.3L1130.3 671L1128.6 676.1L1129.4 683.9L1121.7 686.4L1114.9 683.9L1111.4 685.6L1106.3 682.1L1105.4 676.1L1107.6 668.4L1075.4 666.3L1070.3 663.3L1066 655.6L1064.9 662.4L1048.6 662.4L1049.4 673.6L1055.4 675.3L1057.6 680.4L1057.1 685.6L1053.7 688.1L1046.9 686.4L1041.7 683.9L1034.9 681.3L1028.9 677L1028.4 669.3L1027.1 666.7L1021.1 668.4L1014.3 672.7L1009.1 674.4L1001 673.6L999.7 667.6L992.9 668.4L987.7 665L984.3 654.7L986.9 650.4L988.6 645.3L992.9 641L999.7 639.3L1004.9 637.6L1006.6 627.3L1007.4 622.1L1004.4 617.9L1004 614.4L1007.4 613.6L1004.4 612.7L1005.7 608.4L1014.3 606.7L1018.1 604.1z" fill="#CDEDCE"/>
<path d="M1129.4 623L1135.4 623.9L1139.7 629L1144.9 628.1L1152.6 630.7L1160.3 630.7L1167.1 634.1L1172.3 638.4L1177.4 641.9L1186 642.7L1188.6 647.9L1189.9 655.6L1188.6 662.4L1184.3 668.4L1180 672.7L1174.9 679.6L1170.6 683.9L1167.1 687.3L1167.6 687.6L1168 693.6L1167.1 702.1L1166.7 709.9L1163.7 712.4L1160.3 707.3L1162.4 700.4L1155.1 698.7L1150 694.4L1144 693.6L1139.7 691L1135.4 692.7L1131.1 694.4L1129.4 683.9L1128.6 676.1L1130.3 671L1126 663.3L1127.7 659L1122.6 654.7L1121.7 646.1L1116.6 644.4L1120.9 641L1125.1 635.9L1127.7 630.7z" fill="#F1CDAC"/>
<path d="M1064.9 662.4L1066 655.6L1070.3 663.3L1075.4 666.3L1107.6 668.4L1105.4 676.1L1106.3 682.1L1111.4 685.6L1114.9 683.9L1121.7 686.4L1129.4 683.9L1131.1 694.4L1130.3 694.4L1126 696.1L1125.1 702.1L1123.4 706.4L1122.6 712L1114.9 712.9L1108 714.6L1103.3 716.7L1103.3 723.6L1100.3 727.9L1095.1 735.1L1088.3 742L1081.4 742.4L1079.7 736.4L1076.3 733.9L1067.7 732.6L1068.1 726.1L1066.9 721L1069.4 710.7L1065.1 703L1064.9 703L1056.3 701.7L1054.6 695.3L1053.7 688.4L1053.7 688.1L1057.1 685.6L1057.6 680.4L1055.4 675.3L1049.4 673.6L1048.6 662.4L1064.9 662.4z" fill="#F0ACAE"/>
<path d="M1139.7 691L1144 693.6L1150 694.4L1155.1 698.7L1162.4 700.4L1160.3 707.3L1163.7 712.4L1164.1 718.4L1162 723.6L1157.7 728.7L1156.9 732.1L1150.9 737.3L1144.9 736.4L1138.9 735.6L1137.1 739L1132.9 742L1126 745L1120 749.3L1118.3 748.4L1113.1 744.1L1103.3 744.1L1103.3 736.4L1095.1 735.1L1100.3 727.9L1103.3 723.6L1103.3 716.7L1108 714.6L1114.9 712.9L1122.6 712L1123.4 706.4L1125.1 702.1L1126 696.1L1130.3 694.4L1135.4 692.7z" fill="#BB9EE2"/>
<path d="M1095.1 735.1L1103.3 736.4L1103.3 744.1L1113.1 744.1L1118.3 748.4L1117 753.6L1117.4 759.6L1116.6 765.6L1111.4 770.7L1108 775.9L1104.6 780.1L1097.7 786.1L1096 790.4L1091.7 794.3L1090.4 791.3L1092.6 788.7L1085.7 783.6L1078 779.3L1069.4 775.4L1079.7 764.7L1089.6 759.6L1090 755.3L1085.7 751L1086.6 745.9L1088.3 742z" fill="#F0E6AC"/>
<path d="M924.3 547.6L932.9 547.6L932 553.6L931.1 558.7L934.6 563.9L938.9 568.1L944 569.9L949.1 568.1L953.4 565.6L958.6 566.4L962.9 569.9L965 574.1L962.9 576.7L960.3 575L959 570.7L955.1 569.4L950.9 571.6L949.1 575L950.4 576.7L947.4 578.4L945.7 575L942.3 573.3L937.1 572.4L935.4 573.3L932.9 569.9L929.4 565.6L926 563L924.3 562.1z" fill="#DDE09A"/>
<ellipse cx="995.9" cy="564.7" rx="2.3" ry="3.8" fill="#fff"/>
<g fill="none">
<path d="M956.9 608.9L962.9 612.7L968.9 614.4L975.7 617L976.6 620.4L973.1 625.6L968 629L962.9 631.6L959.4 635.9L957.7 640.1L955.1 642.7L951.7 640.1L948.3 639.3L949.1 635.9"/>
<path d="M975.7 617L981.7 621.3L986.9 627.3L992 628.6L997.1 627.7L1002.3 629L1003.6 630.7L1000.6 635.9L1004.9 637.6"/>
<path d="M1007.4 675.3L1010 682.1L1009.1 690.7L1010 685L1008.3 693.6L1007.4 698.7L1009.6 703L1006.6 709.4"/>
<path d="M1040 605L1043.4 612.7L1043.9 620.4L1046.9 623.4L1049.4 619.6L1053.7 620.4L1056.3 615.3L1062.3 615.3"/>
<path d="M984.3 654.7L997.1 658.1L1010 663.3L1021.1 667.6"/>
<path d="M1021.1 668.4L1027.1 666.7L1034 662.4L1038.3 658.1L1041.7 658.6L1046 662.4L1048.6 662.4"/>
<path d="M1053.7 569.9L1057.1 571.6L1053.7 575L1052.9 579.3L1049.4 584.4L1052 587.9L1055.4 589.1"/>
<path d="M1071.1 584.4L1070.3 589.6L1067.3 593L1068.1 597.3L1071.1 599.9L1072.9 603.3L1074.6 606.3"/>
<path d="M1088.3 586.1L1085.7 591.3L1087.4 597.3L1086.1 604.1"/>
<path d="M1062.6 609.3L1061.7 616.1L1065.1 622.1L1071.1 625.6L1075.9 627.7L1071.1 639.3L1064.7 652.1L1066 655.6"/>
<path d="M1084.9 606.7L1090 610.1L1093.4 616.1L1096.9 623L1100.3 620.4L1104.6 616.1L1108 612.7"/>
<path d="M1116.6 644.4L1119.1 647.9L1114.9 653L1112.3 660.7L1107.6 668.4"/>
<path d="M1152.6 630.7L1146.6 637.6L1145.7 644.4L1147.4 649.6L1143.1 652.1L1133.7 656.4L1130.3 662.4L1131.1 668.4"/>
<path d="M1154.3 631.6L1156.9 643.6L1159.4 654.7L1168 657.3L1171.4 647.9L1176.6 641.9"/>
<path d="M1159.4 655.6L1156.9 661.6L1142.3 666.7L1139.7 671.9L1134.6 673.6L1130.3 671"/>
<path d="M1156.9 661.6L1158.6 665.9L1165.4 661.6L1171.4 664.1L1173.1 671L1171.4 675.3L1174.9 679.6"/>
<path d="M1169.7 649.6L1175.7 648.7L1180 650.4L1188.6 649.6"/>
<path d="M1168.9 656.4L1174.9 655.6L1178.3 659L1189.4 655.6"/>
<path d="M1171.4 664.1L1180 665L1186.9 662.4"/>
<path d="M1106.3 685L1102.9 693.6L1095.1 702.1L1092.6 708.1L1094.3 713.3L1100.3 716.7L1103.3 716.7"/>
<path d="M1069.4 710.7L1076.3 707.3L1082.3 709L1088.3 708.6L1092.6 708.1"/>
<path d="M1118.3 699.6L1123.4 698.7L1123 700.9L1118.7 700.4L1118.3 699.6"/>
<path d="M1103.3 720.6L1111.4 721.9L1114.9 723.1L1120 721.4L1123.4 722.7L1125.1 727.9L1127.7 730.4L1128.6 735.6L1131 736.4"/>
<path d="M1162.4 710.7L1156.9 712.4L1157.7 717.6L1154.3 722.7L1152.6 727L1156.9 728.7"/>
<path d="M1152.6 727L1150 731.3L1142.3 733L1137.1 734.7L1132.9 736.4"/>
<path d="M1090 755.3L1096 756.1L1101.1 756.1L1106.3 753.6L1117 752.7"/>
<path d="M1089.6 759.6L1097.7 760.4L1104.6 763.9L1109.7 767.3L1111.4 770.7"/>
<path d="M1069.4 775.4L1067.3 780.1L1066.4 787.9L1065.1 796.4"/>
<path d="M1041.7 732.6L1052 742L1057.1 743.3L1069.1 749.3L1064 758.7L1070 760.4L1075.4 761.3L1081.4 758.7L1085.7 751"/>
<path d="M1006.6 709.4L1010 716.7L1010.9 722.7L1013.4 728.7L1016 736.4L1019.4 736.4L1018.6 742.4L1012.6 745L1012.1 756.1L1012.6 757.9L1008.3 762.1L1004.9 767.3L1004 771.6L1004.9 775.9L1001.4 781L1002.3 786.1L1004.9 792.1L1004.9 796.4L1002.3 801.6L1002.3 805L998.9 808.4L998.4 816.1L999.7 819.6L996.3 822.1L995.4 827.3"/>
<path d="M1070 774.1L1067.4 780.1L1065.7 788.7L1064.9 796.4L1070 800.7"/>
</g>
</g>
<rect x="924.6" y="547.7" width="280.4" height="279.5" fill="none" stroke="#000" stroke-width="1.3"/>
<rect x="1104.4" y="716.9" width="25.5" height="26" fill="none" stroke="#000" stroke-width="2.2"/>
<path d="M1135.3 747.6L1149.6 753.1L1143.6 756.1L1140.6 761.7z" fill="#3a3a3a"/>
</g>
<rect x="1396.5" y="701.9" width="309" height="10" fill="#000"/>
<rect x="1474" y="702.5" width="76.8" height="8.8" fill="#fff" stroke="#999" stroke-width="0.6"/>
<text x="1533.40" y="696.10" font-size="21.5" textLength="34.60" lengthAdjust="spacingAndGlyphs">Km</text>
<text x="1391.46" y="733.60" font-size="21" textLength="11.65" lengthAdjust="spacingAndGlyphs">0</text>
<text x="1533.69" y="733.60" font-size="21" textLength="35.84" lengthAdjust="spacingAndGlyphs">100</text>
<text x="1686.93" y="733.60" font-size="21" textLength="35.80" lengthAdjust="spacingAndGlyphs">200</text>
<rect x="1323.6" y="782.4" width="382.3" height="15.7" fill="url(#cbar)" stroke="#555" stroke-width="0.9"/>
<path d="M1328.6 798.1V806.3M1361.9 798.1V806.3M1395.1 798.1V806.3M1428.4 798.1V806.3M1461.7 798.1V806.3M1494.9 798.1V806.3M1528.2 798.1V806.3M1561.5 798.1V806.3M1594.8 798.1V806.3M1628 798.1V806.3M1661.3 798.1V806.3M1694.6 798.1V806.3" stroke="#222" stroke-width="1.1" fill="none"/>
<path d="M1328.6 782.4V798.1M1395.1 782.4V798.1M1461.7 782.4V798.1M1528.2 782.4V798.1M1594.8 782.4V798.1M1661.3 782.4V798.1" stroke="#555" stroke-width="0.6" fill="none" opacity="0.8"/>
<text x="1338.61" y="776.40" font-size="21" textLength="48.54" lengthAdjust="spacingAndGlyphs">2014</text>
<text x="1315.02" y="827.10" font-size="19" textLength="29.61" lengthAdjust="spacingAndGlyphs">Jan</text>
<text x="1404.90" y="776.40" font-size="21" textLength="49.03" lengthAdjust="spacingAndGlyphs">2015</text>
<text x="1381.52" y="827.10" font-size="19" textLength="29.61" lengthAdjust="spacingAndGlyphs">Jan</text>
<text x="1471.40" y="776.40" font-size="21" textLength="48.78" lengthAdjust="spacingAndGlyphs">2016</text>
<text x="1448.02" y="827.10" font-size="19" textLength="29.61" lengthAdjust="spacingAndGlyphs">Jan</text>
<text x="1537.60" y="776.40" font-size="21" textLength="48.74" lengthAdjust="spacingAndGlyphs">2017</text>
<text x="1514.52" y="827.10" font-size="19" textLength="29.61" lengthAdjust="spacingAndGlyphs">Jan</text>
<text x="1603.90" y="776.40" font-size="21" textLength="49.09" lengthAdjust="spacingAndGlyphs">2018</text>
<text x="1581.02" y="827.10" font-size="19" textLength="29.61" lengthAdjust="spacingAndGlyphs">Jan</text>
<text x="1667.01" y="776.40" font-size="21" textLength="48.62" lengthAdjust="spacingAndGlyphs">2019</text>
<text x="1647.52" y="827.10" font-size="19" textLength="29.61" lengthAdjust="spacingAndGlyphs">Jan</text>
<rect x="901.5" y="3.2" width="838" height="844.8" fill="none" stroke="#000" stroke-width="2.5"/>
<path d="M892.3 847.9H901.5M901.2 848V857.2M1739.3 848V857.2M892.3 3.3H901.5" stroke="#000" stroke-width="1.7" fill="none"/>
<text x="879.35" y="892.60" font-size="30.5" fill="#444" textLength="32.09" lengthAdjust="spacingAndGlyphs">51</text>
<text x="1716.78" y="892.40" font-size="30.5" fill="#444" textLength="35.66" lengthAdjust="spacingAndGlyphs">46</text>
<text x="0" y="0" font-size="31" fill="#444" transform="translate(881.9 866.2) rotate(-90)">24</text>
<text x="0" y="0" font-size="30.5" fill="#444" textLength="32.6" lengthAdjust="spacingAndGlyphs" transform="translate(882.2 32.2) rotate(-90)">19</text>
</g>
<g id="panelC">
<defs><clipPath id="clipC"><rect x="901.5" y="926.4" width="838" height="832.4"/></clipPath>
<linearGradient id="dgrad" gradientUnits="userSpaceOnUse" x1="1059" x2="1640" y1="0" y2="0"><stop offset="0" stop-color="#5B95C8"/><stop offset="0.17" stop-color="#8DB6D9"/><stop offset="0.33" stop-color="#B3CFE6"/><stop offset="0.42" stop-color="#D3E3F0"/><stop offset="0.5" stop-color="#F1F4F8"/><stop offset="0.56" stop-color="#FBF5F4"/><stop offset="0.66" stop-color="#F3DEDE"/><stop offset="0.76" stop-color="#E8BEC0"/><stop offset="0.86" stop-color="#DD9C9E"/><stop offset="1" stop-color="#D07A7C"/></linearGradient></defs>
<rect x="901.5" y="926.4" width="838" height="832.4" fill="#fff"/>
<path d="M901.5 926.4H926.8V1758.8H901.5zM1043 926.4H1159.2V1758.8H1043zM1275.4 926.4H1391.6V1758.8H1275.4zM1507.8 926.4H1624V1758.8H1507.8z" fill="#f2f2f2"/>
<path d="M901.4 1145.4C907.4 1145.2 925.9 1145.5 937.8 1144.4C949.8 1143.3 963.8 1141 973 1138.9C982.2 1136.7 986.4 1134.7 993.1 1131.3C999.8 1128 1007 1122.9 1013.3 1118.7C1019.5 1114.6 1025.4 1109.9 1030.9 1106.2C1036.3 1102.5 1041 1098.8 1045.9 1096.6C1050.9 1094.4 1055.9 1092.8 1060.5 1093.1C1065.1 1093.4 1068.9 1095.6 1073.6 1098.6C1078.3 1101.6 1083.2 1106.6 1088.7 1111.2C1094.1 1115.8 1100.4 1122.1 1106.3 1126.3C1112.2 1130.5 1118 1133.7 1123.9 1136.3C1129.8 1138.9 1135.2 1140.5 1141.5 1141.9C1147.8 1143.3 1154.9 1144 1161.6 1144.6C1168.3 1145.3 1174.2 1145.4 1181.7 1145.6C1189.3 1145.9 1202.7 1145.9 1206.9 1145.9L1206.9 1145.9C1202.7 1145.9 1189.3 1145.9 1181.7 1146.2C1174.2 1146.4 1168.3 1146.5 1161.6 1147.2C1154.9 1147.8 1147.8 1148.5 1141.5 1149.9C1135.2 1151.3 1129.8 1152.9 1123.9 1155.5C1118 1158.1 1112.2 1161.3 1106.3 1165.5C1100.4 1169.7 1094.1 1176 1088.7 1180.6C1083.2 1185.2 1078.3 1190.2 1073.6 1193.2C1068.9 1196.2 1065.1 1198.4 1060.5 1198.7C1055.9 1199 1050.9 1197.4 1045.9 1195.2C1041 1193 1036.3 1189.3 1030.9 1185.6C1025.4 1181.9 1019.5 1177.2 1013.3 1173.1C1007 1168.9 999.8 1163.8 993.1 1160.5C986.4 1157.1 982.2 1155.1 973 1152.9C963.8 1150.8 949.8 1148.5 937.8 1147.4C925.9 1146.3 907.4 1146.6 901.4 1146.4" fill="#e4e4e4" fill-opacity="0.75" stroke="none"/>
<path d="M901.4 1145.4C907.4 1145.2 925.9 1145.5 937.8 1144.4C949.8 1143.3 963.8 1141 973 1138.9C982.2 1136.7 986.4 1134.7 993.1 1131.3C999.8 1128 1007 1122.9 1013.3 1118.7C1019.5 1114.6 1025.4 1109.9 1030.9 1106.2C1036.3 1102.5 1041 1098.8 1045.9 1096.6C1050.9 1094.4 1055.9 1092.8 1060.5 1093.1C1065.1 1093.4 1068.9 1095.6 1073.6 1098.6C1078.3 1101.6 1083.2 1106.6 1088.7 1111.2C1094.1 1115.8 1100.4 1122.1 1106.3 1126.3C1112.2 1130.5 1118 1133.7 1123.9 1136.3C1129.8 1138.9 1135.2 1140.5 1141.5 1141.9C1147.8 1143.3 1154.9 1144 1161.6 1144.6C1168.3 1145.3 1174.2 1145.4 1181.7 1145.6C1189.3 1145.9 1202.7 1145.9 1206.9 1145.9" fill="none" stroke="#868686" stroke-width="1.8"/>
<path d="M1206.9 1145.9C1202.7 1145.9 1189.3 1145.9 1181.7 1146.2C1174.2 1146.4 1168.3 1146.5 1161.6 1147.2C1154.9 1147.8 1147.8 1148.5 1141.5 1149.9C1135.2 1151.3 1129.8 1152.9 1123.9 1155.5C1118 1158.1 1112.2 1161.3 1106.3 1165.5C1100.4 1169.7 1094.1 1176 1088.7 1180.6C1083.2 1185.2 1078.3 1190.2 1073.6 1193.2C1068.9 1196.2 1065.1 1198.4 1060.5 1198.7C1055.9 1199 1050.9 1197.4 1045.9 1195.2C1041 1193 1036.3 1189.3 1030.9 1185.6C1025.4 1181.9 1019.5 1177.2 1013.3 1173.1C1007 1168.9 999.8 1163.8 993.1 1160.5C986.4 1157.1 982.2 1155.1 973 1152.9C963.8 1150.8 949.8 1148.5 937.8 1147.4C925.9 1146.3 907.4 1146.6 901.4 1146.4" fill="none" stroke="#868686" stroke-width="1.8"/>
<path d="M1059.3 1691.2L1064 1676.7L1071.9 1666.2L1087.7 1653.1L1103.4 1645.2L1116.6 1637.3L1127.1 1628.1L1135 1618.9L1140.2 1609.7L1144.2 1596.6L1148.1 1579.5L1156 1579.5L1162.6 1585.5L1166.5 1562.4L1169.9 1539.5L1178.3 1544.8L1185.4 1533L1192.8 1501.9L1200.2 1531.4L1207.3 1522.4L1213.8 1501.9L1221.7 1480.9L1230.1 1462.5L1238 1461.2L1244.8 1481.4L1251.9 1486.2L1259.3 1471.7L1267.2 1472.5L1274.3 1483.5L1282.2 1494.6L1289.5 1500.6L1290 1498.9L1296.6 1491.4L1303.7 1482.2L1304.5 1481.8L1311.1 1490.6L1312.3 1491L1318.4 1513L1318.9 1512.5L1326.1 1515.9L1326.8 1515.9L1333.4 1533.5L1341.3 1551.4L1355.7 1558L1363.6 1556.2L1375.4 1580.3L1387.3 1600.1L1394.4 1606.1L1401.7 1602.7L1416.2 1631.6L1425.4 1635.5L1431.9 1639.5L1438.5 1652.6L1446.4 1655.8L1455.6 1665.8L1474 1689.4L1489.8 1697.3L1505.5 1704.4L1534.5 1710.5L1566 1712.3L1592.3 1715.7L1623.8 1716.5L1698.7 1717L1698.7 1717.6L1623.8 1717.6L1526.6 1717.6L1474 1717L1438.5 1717L1416.2 1714.4L1401.7 1714.9L1386.7 1709.9L1379.4 1716.5L1371.5 1717.8L1364.9 1716.5L1355.7 1707.8L1348.4 1701.8L1341.3 1703.4L1334 1712.2L1333.9 1712.3L1326.9 1683.3L1326.8 1685.5L1320.3 1663.6L1318.9 1664.5L1312.3 1653.9L1311.1 1654.4L1304.5 1659.2L1303.7 1658.3L1296.6 1650.5L1290 1642.1L1289.3 1641.8L1282.2 1651.8L1274.3 1664.9L1266.4 1692.5L1259.8 1700.4L1251.9 1711.7L1246.7 1714.3L1237.5 1716.2L1221.7 1717L1200.7 1718.8L1169.1 1718.3L1153.4 1717.5L1142.9 1718.8L1116.6 1718.8L1090.3 1720.1L1059.3 1720.1z" fill="url(#dgrad)" fill-opacity="0.93"/>
<path d="M1059.3 1691.2L1064 1676.7L1071.9 1666.2L1087.7 1653.1L1103.4 1645.2L1116.6 1637.3L1127.1 1628.1L1135 1618.9L1140.2 1609.7L1144.2 1596.6L1148.1 1579.5L1156 1579.5L1162.6 1585.5L1166.5 1562.4L1169.9 1539.5L1178.3 1544.8L1185.4 1533L1192.8 1501.9L1200.2 1531.4L1207.3 1522.4L1213.8 1501.9L1221.7 1480.9L1230.1 1462.5L1238 1461.2L1244.8 1481.4L1251.9 1486.2L1259.3 1471.7L1267.2 1472.5L1274.3 1483.5L1282.2 1494.6L1289.5 1500.6L1290 1498.9L1296.6 1491.4L1303.7 1482.2L1304.5 1481.8L1311.1 1490.6L1312.3 1491L1318.4 1513L1318.9 1512.5L1326.1 1515.9L1326.8 1515.9L1333.4 1533.5L1341.3 1551.4L1355.7 1558L1363.6 1556.2L1375.4 1580.3L1387.3 1600.1L1394.4 1606.1L1401.7 1602.7L1416.2 1631.6L1425.4 1635.5L1431.9 1639.5L1438.5 1652.6L1446.4 1655.8L1455.6 1665.8L1474 1689.4L1489.8 1697.3L1505.5 1704.4L1534.5 1710.5L1566 1712.3L1592.3 1715.7L1623.8 1716.5L1698.7 1717" fill="none" stroke="#828282" stroke-width="2" stroke-linejoin="round"/>
<path d="M1059.3 1720.1L1090.3 1720.1L1116.6 1718.8L1142.9 1718.8L1153.4 1717.5L1169.1 1718.3L1200.7 1718.8L1221.7 1717L1237.5 1716.2L1246.7 1714.3L1251.9 1711.7L1259.8 1700.4L1266.4 1692.5L1274.3 1664.9L1282.2 1651.8L1289.3 1641.8L1290 1642.1L1296.6 1650.5L1303.7 1658.3L1304.5 1659.2L1311.1 1654.4L1312.3 1653.9L1318.9 1664.5L1320.3 1663.6L1326.8 1685.5L1326.9 1683.3L1333.9 1712.3L1334 1712.2L1341.3 1703.4L1348.4 1701.8L1355.7 1707.8L1364.9 1716.5L1371.5 1717.8L1379.4 1716.5L1386.7 1709.9L1401.7 1714.9L1416.2 1714.4L1438.5 1717L1474 1717L1526.6 1717.6L1623.8 1717.6L1698.7 1717.6" fill="none" stroke="#828282" stroke-width="2" stroke-linejoin="round"/>
<path d="M1059.3 1714.9L1074.5 1713.5L1095.5 1712.2L1108.7 1709.6L1119.2 1708.3L1132.3 1703.8L1140.2 1701.7L1154.7 1693.8L1162.6 1685.9L1170.5 1679.4L1177 1672.8L1184.9 1672.3L1192.8 1663.6L1199.4 1657.6L1207.3 1651.8L1215.1 1646L1221.7 1635.5L1229.6 1620.2L1237.5 1603.9L1245.4 1593.9L1251.9 1582.9L1259.8 1578.2L1267.2 1580.8L1274.8 1576.9L1282.2 1580.3L1289.5 1582.6L1290 1583L1297.9 1586.1L1304.5 1590.9L1312.3 1597.4L1318.9 1600.8L1326.8 1605.3L1333.9 1614.5L1341.3 1625.8L1348.4 1640.8L1355.7 1643.4L1371.5 1653.9L1379.4 1658.7L1401.7 1674.4L1416.2 1677.6L1424.1 1686.8L1438.5 1695.5L1447.7 1699.9L1454.3 1703.9L1468.7 1709.1L1481.9 1713.1L1497.7 1715.7L1513.4 1716.5L1552.9 1716.5L1592.3 1717L1602.8 1714.9L1631.7 1716L1698.7 1717" fill="none" stroke="#000" stroke-width="5" stroke-linejoin="round" stroke-linecap="round"/>
<path d="M1059 1392.7V1722.8M1045.6 1393.6H1059M1045.6 1503.3H1059M1045.6 1612.6H1059M1045.6 1721.9H1059" fill="none" stroke="#000" stroke-width="1.9"/>
<text x="995.25" y="1402.60" font-size="26.3" textLength="45.60" lengthAdjust="spacingAndGlyphs">150</text>
<text x="993.89" y="1512.00" font-size="26.3" textLength="47.00" lengthAdjust="spacingAndGlyphs">100</text>
<text x="1009.88" y="1621.60" font-size="26.3" textLength="31.03" lengthAdjust="spacingAndGlyphs">50</text>
<text x="1027.01" y="1731.20" font-size="26.3" textLength="13.74" lengthAdjust="spacingAndGlyphs">0</text>
<text x="0" y="0" font-size="29" fill="#333" textLength="365.36" lengthAdjust="spacingAndGlyphs" transform="translate(972.50 1746.02) rotate(-90)">Dispersal velocity (Km/year)</text>
<path d="M1287.4 1008.3H1321.5M1318.9 966.2H1397.2M1394.6 953.9H1659.3M1394.6 978.3H1480M1477.4 970.4H1652M1477.4 986.7H1629.6M1318.9 1050.4H1345.2M1342.6 1015.7H1485M1482.4 1003.3H1700.6M1482.4 1028.8H1514.7M1512.1 1020.1H1675.6M1342.6 1084.8H1384.6M1382 1061.1H1588.3M1585.7 1053.2H1652.7M1585.7 1069.5H1625.7M1382 1108.2H1530.5M1527.9 1086.6H1539.7M1527.9 1129.5H1559.4M1556.8 1110.8H1610.2M1607.6 1102.9H1684.8M1607.6 1119.5H1630.4M1556.8 1147.9H1571.8M1569.2 1135.8H1700.6M1569.2 1161H1579.9M1577.3 1152.3H1666.4M1577.3 1168.6H1644.1M1321.5 963.6V1053M1397.2 951.3V980.9M1480 967.8V989.3M1345.2 1013.1V1087.4M1485 1000.7V1031.4M1514.7 1017.5V1039.3M1384.6 1058.5V1110.8M1588.3 1050.6V1072.1M1530.5 1084V1132.1M1559.4 1108.2V1150.5M1610.2 1100.3V1122.1M1571.8 1133.2V1163.6M1579.9 1149.7V1171.2M1299.2 1185.8H1655.4M1299.2 1231H1516.6M1514 1209.9H1541.8M1539.2 1202.1H1673.8M1539.2 1219.1H1628.3M1514 1250.7H1572.6M1570 1236.2H1630.9M1570 1264.6H1608.1M1605.5 1252H1655.4M1605.5 1275.7H1644.9M1642.3 1268.6H1683M1642.3 1285.4H1654.1M1421.5 1302.5H1654.1M1299.2 1316.4H1424.1M1421.5 1330.9H1443M1440.4 1318.5H1627.8M1440.4 1343.2H1508.7M1506.1 1334.8H1659.8M1506.1 1351.9H1654.8M1299.2 1403.1H1403.6M1401 1376.1H1417M1414.4 1368.2H1638.3M1414.4 1384.7H1633.8M1401 1429.4H1459.5M1456.9 1401.3H1634.3M1456.9 1457H1484.5M1481.9 1430.2H1534.5M1531.9 1417.6H1637M1531.9 1442.6H1548.9M1546.3 1434.2H1633.8M1546.3 1451.2H1633M1301.8 1183.2V1233.6M1516.6 1207.3V1253.3M1541.8 1199.5V1221.7M1572.6 1233.6V1267.2M1608.1 1249.4V1278.3M1644.9 1266V1288M1424.1 1299.9V1333.5M1443 1315.9V1345.8M1508.7 1332.2V1354.5M1301.8 1313.8V1405.7M1403.6 1373.5V1432M1417 1365.6V1387.3M1459.5 1398.7V1459.6M1484.5 1427.6V1485.7M1534.5 1415V1445.2M1548.9 1431.6V1453.8M1489.8 1467.8H1633.8M1489.8 1497.5H1564.7M1562.1 1484.4H1633.8M1562.1 1509.4H1586.5M1583.9 1501H1636.4M1583.9 1517.8H1633.8M1481.9 1482.6H1494.5M1492.4 1465.2V1500.1M1564.7 1481.8V1512M1586.5 1498.4V1520.4M1058 1283.5H1171.8M1168.6 1208.6H1301.9M1168.6 1359.8H1301.9M1171.2 1206V1362.4M1057.9 1008.2H1321.5M1060.5 1005.6V1286.2" fill="none" stroke="#000" stroke-width="5.2"/>
<g stroke="#000" stroke-width="3">
<circle cx="1321.5" cy="1008.3" r="9.8" fill="#D8E4F1"/>
<circle cx="1397.2" cy="966.2" r="9.8" fill="#FBF4F4"/>
<circle cx="1480" cy="978.3" r="9.8" fill="#ECBFC1"/>
<circle cx="1345.2" cy="1050.4" r="9.8" fill="#E8EEF6"/>
<circle cx="1485" cy="1015.7" r="9.8" fill="#EBBCBE"/>
<circle cx="1514.7" cy="1028.8" r="9.8" fill="#E5A9AB"/>
<circle cx="1384.6" cy="1084.8" r="9.8" fill="#FEFCFC"/>
<circle cx="1588.3" cy="1061.1" r="9.8" fill="#D67577"/>
<circle cx="1530.5" cy="1108.2" r="9.8" fill="#E19EA0"/>
<circle cx="1559.4" cy="1129.5" r="9.8" fill="#DC898B"/>
<circle cx="1610.2" cy="1110.8" r="9.8" fill="#D16668"/>
<circle cx="1571.8" cy="1147.9" r="9.8" fill="#D98082"/>
<circle cx="1579.9" cy="1161" r="9.8" fill="#D77A7C"/>
<circle cx="1659.3" cy="953.9" r="9.3" fill="#C6484C"/>
<circle cx="1652" cy="970.4" r="9.3" fill="#C84E51"/>
<circle cx="1629.6" cy="986.7" r="9.3" fill="#CD5C5E"/>
<circle cx="1700.6" cy="1003.3" r="9.3" fill="#BB3135"/>
<circle cx="1675.6" cy="1020.1" r="9.3" fill="#C13E42"/>
<circle cx="1521.3" cy="1036.7" r="9.3" fill="#E3A4A6"/>
<circle cx="1652.7" cy="1053.2" r="9.3" fill="#C84D51"/>
<circle cx="1625.7" cy="1069.5" r="9.3" fill="#CE5E60"/>
<circle cx="1539.7" cy="1086.6" r="9.3" fill="#DF989A"/>
<circle cx="1684.8" cy="1102.9" r="9.3" fill="#BF393E"/>
<circle cx="1630.4" cy="1119.5" r="9.3" fill="#CD5B5E"/>
<circle cx="1700.6" cy="1135.8" r="9.3" fill="#BB3135"/>
<circle cx="1666.4" cy="1152.3" r="9.3" fill="#C44347"/>
<circle cx="1644.1" cy="1168.6" r="9.3" fill="#CA5457"/>
<circle cx="1301.8" cy="1208.6" r="9.8" fill="#CBDDEE"/>
<circle cx="1516.6" cy="1231" r="9.8" fill="#E4A7A9"/>
<circle cx="1541.8" cy="1210.5" r="9.8" fill="#DF9698"/>
<circle cx="1572.6" cy="1250.2" r="9.8" fill="#D98082"/>
<circle cx="1608.1" cy="1264.6" r="9.8" fill="#D16769"/>
<circle cx="1644.9" cy="1276.4" r="9.8" fill="#CA5356"/>
<circle cx="1424.1" cy="1316.4" r="9.8" fill="#F6E3E3"/>
<circle cx="1443" cy="1330.9" r="9.8" fill="#F3D6D8"/>
<circle cx="1508.7" cy="1343.2" r="9.8" fill="#E6ACAE"/>
<circle cx="1301.8" cy="1359.8" r="9.8" fill="#CBDDEE"/>
<circle cx="1403.6" cy="1402.4" r="9.8" fill="#FAF0F0"/>
<circle cx="1417" cy="1376.1" r="9.8" fill="#F8E7E8"/>
<circle cx="1459.5" cy="1428.6" r="9.8" fill="#F0CCCE"/>
<circle cx="1484.5" cy="1455.7" r="9.8" fill="#EBBCBE"/>
<circle cx="1534.5" cy="1430.2" r="9.8" fill="#E09C9E"/>
<circle cx="1548.9" cy="1442.6" r="9.8" fill="#DE9193"/>
<circle cx="1655.4" cy="1185.8" r="9.3" fill="#C74B4F"/>
<circle cx="1673.8" cy="1202.1" r="9.3" fill="#C23F43"/>
<circle cx="1628.3" cy="1219.1" r="9.3" fill="#CD5C5F"/>
<circle cx="1630.9" cy="1236.2" r="9.3" fill="#CD5B5E"/>
<circle cx="1655.4" cy="1252" r="9.3" fill="#C74B4F"/>
<circle cx="1683" cy="1268.6" r="9.3" fill="#C03A3F"/>
<circle cx="1654.1" cy="1285.4" r="9.3" fill="#C74C50"/>
<circle cx="1654.1" cy="1302.5" r="9.3" fill="#C74C50"/>
<circle cx="1627.8" cy="1318.5" r="9.3" fill="#CD5D5F"/>
<circle cx="1659.8" cy="1334.8" r="9.3" fill="#C5484C"/>
<circle cx="1654.8" cy="1351.9" r="9.3" fill="#C74C4F"/>
<circle cx="1638.3" cy="1368.2" r="9.3" fill="#CC585A"/>
<circle cx="1633.8" cy="1384.7" r="9.3" fill="#CC5A5C"/>
<circle cx="1634.3" cy="1401.3" r="9.3" fill="#CC595C"/>
<circle cx="1637" cy="1417.6" r="9.3" fill="#CC585B"/>
<circle cx="1633.8" cy="1434.2" r="9.3" fill="#CC5A5C"/>
<circle cx="1633" cy="1451.2" r="9.3" fill="#CC5A5D"/>
<circle cx="1494.5" cy="1482.6" r="9.8" fill="#E9B6B8"/>
<circle cx="1564.7" cy="1497" r="9.8" fill="#DA8587"/>
<circle cx="1586.5" cy="1509.4" r="9.8" fill="#D67678"/>
<circle cx="1633.8" cy="1467.8" r="9.3" fill="#CC5A5C"/>
<circle cx="1633.8" cy="1484.4" r="9.3" fill="#CC5A5C"/>
<circle cx="1636.4" cy="1501" r="9.3" fill="#CC585B"/>
<circle cx="1633.8" cy="1517.8" r="9.3" fill="#CC5A5C"/>
<circle cx="1171.8" cy="1284.1" r="9.8" fill="#6F9CCB"/>
<circle cx="1060.5" cy="1145.9" r="9.8" fill="#2D6EB2"/>
</g>
<rect x="1022.8" y="1135.1" width="21.2" height="21.4" rx="2" fill="#fff" stroke="#e9e9e9" stroke-width="0.8"/>
<text x="1028.53" y="1151.47" font-size="16.5" font-weight="bold">1</text>
<rect x="1290.2" y="977.7" width="21.4" height="21" rx="2" fill="#fff" stroke="#e9e9e9" stroke-width="0.8"/>
<text x="1296.03" y="993.87" font-size="16.5" font-weight="bold">1</text>
<rect x="1363.1" y="936.3" width="21.5" height="20.3" rx="2" fill="#fff" stroke="#e9e9e9" stroke-width="0.8"/>
<text x="1369.37" y="952.10" font-size="16.5" font-weight="bold">3</text>
<rect x="1315.8" y="1062.5" width="21.5" height="20.3" rx="2" fill="#fff" stroke="#e9e9e9" stroke-width="0.8"/>
<text x="1321.68" y="1078.32" font-size="16.5" font-weight="bold">1</text>
<rect x="1140.8" y="1294.6" width="21.8" height="21.8" rx="2" fill="#fff" stroke="#e9e9e9" stroke-width="0.8"/>
<text x="1146.83" y="1311.17" font-size="16.5" font-weight="bold">1</text>
<rect x="1269.9" y="1176.3" width="22" height="21.8" rx="2" fill="#fff" stroke="#e9e9e9" stroke-width="0.8"/>
<text x="1276.03" y="1192.87" font-size="16.5" font-weight="bold">1</text>
<rect x="1393" y="1285.7" width="21.3" height="21.5" rx="2" fill="#fff" stroke="#e9e9e9" stroke-width="0.8"/>
<text x="1399.17" y="1302.10" font-size="16.5" font-weight="bold">3</text>
<rect x="1374.1" y="1372.9" width="21.6" height="21.1" rx="2" fill="#fff" stroke="#e9e9e9" stroke-width="0.8"/>
<text x="1380.36" y="1389.20" font-size="16.5" font-weight="bold">2</text>
<text x="917.44" y="984.60" font-size="46.3" font-weight="bold" textLength="31.75" lengthAdjust="spacingAndGlyphs">C</text>
<text x="918.35" y="1358.00" font-size="45.5" font-weight="bold" textLength="30.54" lengthAdjust="spacingAndGlyphs">D</text>
<rect x="901.1" y="926.4" width="838.4" height="832.4" fill="none" stroke="#000" stroke-width="2.6"/>
<path d="M926.8 1759V1770.5M1043 1759V1770.5M1159.2 1759V1770.5M1275.4 1759V1770.5M1391.6 1759V1770.5M1507.8 1759V1770.5M1624 1759V1770.5" stroke="#000" stroke-width="2.6" fill="none"/>
<text x="893.26" y="1804.70" font-size="32" textLength="68.31" lengthAdjust="spacingAndGlyphs">2013</text>
<text x="1009.46" y="1804.70" font-size="32" textLength="68.66" lengthAdjust="spacingAndGlyphs">2014</text>
<text x="1126.65" y="1804.70" font-size="32" textLength="68.75" lengthAdjust="spacingAndGlyphs">2015</text>
<text x="1243.65" y="1804.70" font-size="32" textLength="68.83" lengthAdjust="spacingAndGlyphs">2016</text>
<text x="1360.24" y="1804.70" font-size="32" textLength="69.39" lengthAdjust="spacingAndGlyphs">2017</text>
<text x="1477.45" y="1804.70" font-size="32" textLength="68.93" lengthAdjust="spacingAndGlyphs">2018</text>
<text x="1593.63" y="1804.70" font-size="32" textLength="69.85" lengthAdjust="spacingAndGlyphs">2019</text>
</g>
</svg>
</body></html>
